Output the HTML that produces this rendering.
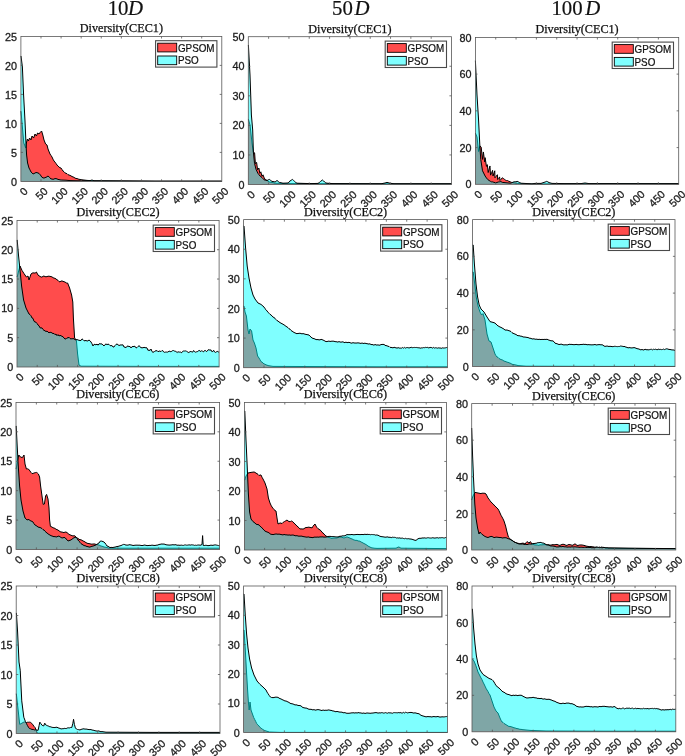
<!DOCTYPE html>
<html lang="en"><head><meta charset="utf-8"><title>Diversity curves of GPSOM and PSO</title>
<style>
html,body{margin:0;padding:0;background:#fff;}
body{width:685px;height:756px;overflow:hidden;}
svg{display:block;}
text{white-space:pre;}
.k{font-family:"Liberation Sans",sans-serif;font-size:10.8px;fill:#1c1c1c;stroke:#1c1c1c;stroke-width:.3px}
.e{text-anchor:end}
.lg{font-family:"Liberation Sans",sans-serif;font-size:10.2px;fill:#111;stroke:#111;stroke-width:.22px}
.ti{font-family:"Liberation Serif",serif;font-size:12.2px;fill:#111;stroke:#111;stroke-width:.25px;text-anchor:middle}
.hd{font-family:"Liberation Serif",serif;font-size:20.8px;fill:#111;stroke:#111;stroke-width:.2px}
.it{font-style:italic}
</style></head><body>
<svg width="685" height="756" viewBox="0 0 685 756">
<rect width="685" height="756" fill="#fff"/>
<text class="hd" x="107.7" y="15.2">10</text>
<text class="hd it" x="127.9" y="15.2">D</text>
<text class="hd" x="332" y="15.2">50</text>
<text class="hd it" x="354.6" y="15.2">D</text>
<text class="hd" x="551.4" y="15.2">100</text>
<text class="hd it" x="585.2" y="15.2">D</text>
<g><path d="M20.9 181.4L20.9 111.2L21 111.2L23.8 143L25.8 148L26.4 143L27.4 139L28.4 141L29.6 138L31 140L32 136L33.6 138L35 134L36.4 136L37.6 133L39 134L40 132.6L41.6 131L42.8 135L44 140L45.6 144L47 145L48 149L50 154L51 155.45L52 157L53 159.2L54 161L55 162.11L56 163.5L57 165L58 166.08L59 167L60 167.77L61 168L62 169.55L63 171L64 171.74L65 172.89L66 173.4L67 173.66L68 174.68L69 175L70 175.41L71 175.85L72 176.6L73 176.84L74 177.42L75 178L76 178.52L77 178.48L78 179L79 179.25L80 179.48L81 179.52L82 179.8L87 180.4L94 180.8L155 181.2L221.8 181.2L221.8 181.4Z" fill="#ff0000" fill-opacity="0.7" stroke="none"/><path d="M20.9 111.2L21 111.2L23.8 143L25.8 148L26.4 143L27.4 139L28.4 141L29.6 138L31 140L32 136L33.6 138L35 134L36.4 136L37.6 133L39 134L40 132.6L41.6 131L42.8 135L44 140L45.6 144L47 145L48 149L50 154L51 155.45L52 157L53 159.2L54 161L55 162.11L56 163.5L57 165L58 166.08L59 167L60 167.77L61 168L62 169.55L63 171L64 171.74L65 172.89L66 173.4L67 173.66L68 174.68L69 175L70 175.41L71 175.85L72 176.6L73 176.84L74 177.42L75 178L76 178.52L77 178.48L78 179L79 179.25L80 179.48L81 179.52L82 179.8L87 180.4L94 180.8L155 181.2L221.8 181.2" fill="none" stroke="#000" stroke-width="1" stroke-linejoin="round" stroke-opacity="1"/>
<path d="M20.9 181.4L20.9 56L21 56L22.4 67L23.6 95L25 121L26 144L26.6 155L27.6 163L29 168L30 169.89L31 172L32 172.79L33 174L34 173.59L35 173L36 172.54L37 172.6L38 173.02L39 173.4L40.4 175L42 177.4L43 177.72L44 178.2L45 177.53L46 177.4L47 176.7L48 176L49.6 177.4L51 179L52 178.92L53 179.4L54 178.96L55 178.6L56 178.61L57 178.89L58 179.4L61 180L66 180.2L70 180.6L78 180.8L90 180.6L92 180L94 180.8L155 181.2L221.8 181.2L221.8 181.4Z" fill="#00ffff" fill-opacity="0.5" stroke="none"/><path d="M20.9 56L21 56L22.4 67L23.6 95L25 121L26 144L26.6 155L27.6 163L29 168L30 169.89L31 172L32 172.79L33 174L34 173.59L35 173L36 172.54L37 172.6L38 173.02L39 173.4L40.4 175L42 177.4L43 177.72L44 178.2L45 177.53L46 177.4L47 176.7L48 176L49.6 177.4L51 179L52 178.92L53 179.4L54 178.96L55 178.6L56 178.61L57 178.89L58 179.4L61 180L66 180.2L70 180.6L78 180.8L90 180.6L92 180L94 180.8L155 181.2L221.8 181.2" fill="none" stroke="#000" stroke-width="1" stroke-linejoin="round" stroke-opacity="1"/>
<rect x="20.9" y="36.4" width="200.9" height="145" fill="none" stroke="#585858" stroke-width="0.8"/>
<path d="M40.99 181.4v-2.1 M40.99 36.4v2.1M61.08 181.4v-2.1 M61.08 36.4v2.1M81.17 181.4v-2.1 M81.17 36.4v2.1M101.26 181.4v-2.1 M101.26 36.4v2.1M121.35 181.4v-2.1 M121.35 36.4v2.1M141.44 181.4v-2.1 M141.44 36.4v2.1M161.53 181.4v-2.1 M161.53 36.4v2.1M181.62 181.4v-2.1 M181.62 36.4v2.1M201.71 181.4v-2.1 M201.71 36.4v2.1M20.9 152.4h2.1 M221.8 152.4h-2.1M20.9 123.4h2.1 M221.8 123.4h-2.1M20.9 94.4h2.1 M221.8 94.4h-2.1M20.9 65.4h2.1 M221.8 65.4h-2.1" stroke="#585858" stroke-width="0.8" fill="none"/>
<text class="k e" x="17.1" y="185.5">0</text>
<text class="k e" x="17.1" y="156.5">5</text>
<text class="k e" x="17.1" y="127.5">10</text>
<text class="k e" x="17.1" y="98.5">15</text>
<text class="k e" x="17.1" y="69.5">20</text>
<text class="k e" x="17.1" y="40.5">25</text>
<text class="k e" transform="translate(28.4 192.1) rotate(-45)">0</text>
<text class="k e" transform="translate(48.49 192.1) rotate(-45)">50</text>
<text class="k e" transform="translate(68.58 192.1) rotate(-45)">100</text>
<text class="k e" transform="translate(88.67 192.1) rotate(-45)">150</text>
<text class="k e" transform="translate(108.76 192.1) rotate(-45)">200</text>
<text class="k e" transform="translate(128.85 192.1) rotate(-45)">250</text>
<text class="k e" transform="translate(148.94 192.1) rotate(-45)">300</text>
<text class="k e" transform="translate(169.03 192.1) rotate(-45)">350</text>
<text class="k e" transform="translate(189.12 192.1) rotate(-45)">400</text>
<text class="k e" transform="translate(209.21 192.1) rotate(-45)">450</text>
<text class="k e" transform="translate(229.3 192.1) rotate(-45)">500</text>
<text class="ti" x="121.35" y="32.4">Diversity(CEC1)</text>
<rect x="155.6" y="40.7" width="61.3" height="26.4" fill="#fff" stroke="#4a4a4a" stroke-width="1.1"/>
<rect x="157.7" y="43.2" width="19" height="8.7" fill="#ff0000" fill-opacity="0.7" stroke="#000" stroke-width="0.9"/>
<rect x="157.7" y="56" width="19" height="8.7" fill="#00ffff" fill-opacity="0.5" stroke="#000" stroke-width="0.9"/>
<text class="lg" textLength="36.7" lengthAdjust="spacingAndGlyphs" x="177.9" y="51.6">GPSOM</text>
<text class="lg" textLength="20.8" lengthAdjust="spacingAndGlyphs" x="177.9" y="64.4">PSO</text></g>
<g><path d="M248.3 184.5L248.3 119.2L248.4 119.2L250 125L252 143L253.3 152.5L254.6 152.8L255.4 163.8L256.6 162.4L257.6 169.8L258.9 168L259.8 173.3L260.8 171.8L262 176.3L263 174.8L264.6 179L265.8 179.57L267 180.6L268 181.08L269 181.82L270 182.2L271 182.19L272 182.59L273 182.52L274 183.1L275 183.2L285 183.6L382 183.8L451.5 183.8L451.5 184.5Z" fill="#ff0000" fill-opacity="0.7" stroke="none"/><path d="M248.3 119.2L248.4 119.2L250 125L252 143L253.3 152.5L254.6 152.8L255.4 163.8L256.6 162.4L257.6 169.8L258.9 168L259.8 173.3L260.8 171.8L262 176.3L263 174.8L264.6 179L265.8 179.57L267 180.6L268 181.08L269 181.82L270 182.2L271 182.19L272 182.59L273 182.52L274 183.1L275 183.2L285 183.6L382 183.8L451.5 183.8" fill="none" stroke="#000" stroke-width="1" stroke-linejoin="round" stroke-opacity="1"/>
<path d="M248.3 184.5L248.3 45L248.4 45L250 75L251.4 115L252.7 130L253.4 152.2L254.5 163.3L256 169.3L257.9 173.3L258.95 174.68L260 176L260.95 176.64L261.9 177.54L262.85 178.52L263.8 179.6L264.87 180.04L265.93 180.22L267 180.6L268.2 179.89L269.4 179.4L270.7 180.45L272 181.4L273 181.57L274 181.68L275 182L276 181.38L277 180.4L278.2 181.52L279.4 182.4L283 183.2L288 183L289 181.85L290 181L291.2 180.24L292.4 179.4L293.5 180.42L294.6 181.4L295.8 182.53L297 183.2L303 183.4L311 183.6L318 183.4L319.3 182.54L320.6 181.4L322.4 180L323.5 180.87L324.6 182L325.8 182.89L327 183.2L333 183.6L382 183.8L382 183.6L385 183L387 182.4L390 183.2L394 183.8L451.5 183.8L451.5 184.5Z" fill="#00ffff" fill-opacity="0.5" stroke="none"/><path d="M248.3 45L248.4 45L250 75L251.4 115L252.7 130L253.4 152.2L254.5 163.3L256 169.3L257.9 173.3L258.95 174.68L260 176L260.95 176.64L261.9 177.54L262.85 178.52L263.8 179.6L264.87 180.04L265.93 180.22L267 180.6L268.2 179.89L269.4 179.4L270.7 180.45L272 181.4L273 181.57L274 181.68L275 182L276 181.38L277 180.4L278.2 181.52L279.4 182.4L283 183.2L288 183L289 181.85L290 181L291.2 180.24L292.4 179.4L293.5 180.42L294.6 181.4L295.8 182.53L297 183.2L303 183.4L311 183.6L318 183.4L319.3 182.54L320.6 181.4L322.4 180L323.5 180.87L324.6 182L325.8 182.89L327 183.2L333 183.6L382 183.8L382 183.6L385 183L387 182.4L390 183.2L394 183.8L451.5 183.8" fill="none" stroke="#000" stroke-width="1" stroke-linejoin="round" stroke-opacity="1"/>
<rect x="248.3" y="36.7" width="203.2" height="147.8" fill="none" stroke="#585858" stroke-width="0.8"/>
<path d="M268.62 184.5v-2.1 M268.62 36.7v2.1M288.94 184.5v-2.1 M288.94 36.7v2.1M309.26 184.5v-2.1 M309.26 36.7v2.1M329.58 184.5v-2.1 M329.58 36.7v2.1M349.9 184.5v-2.1 M349.9 36.7v2.1M370.22 184.5v-2.1 M370.22 36.7v2.1M390.54 184.5v-2.1 M390.54 36.7v2.1M410.86 184.5v-2.1 M410.86 36.7v2.1M431.18 184.5v-2.1 M431.18 36.7v2.1M248.3 154.94h2.1 M451.5 154.94h-2.1M248.3 125.38h2.1 M451.5 125.38h-2.1M248.3 95.82h2.1 M451.5 95.82h-2.1M248.3 66.26h2.1 M451.5 66.26h-2.1" stroke="#585858" stroke-width="0.8" fill="none"/>
<text class="k e" x="244.5" y="188.6">0</text>
<text class="k e" x="244.5" y="159.04">10</text>
<text class="k e" x="244.5" y="129.48">20</text>
<text class="k e" x="244.5" y="99.92">30</text>
<text class="k e" x="244.5" y="70.36">40</text>
<text class="k e" x="244.5" y="40.8">50</text>
<text class="k e" transform="translate(255.8 195.2) rotate(-45)">0</text>
<text class="k e" transform="translate(276.12 195.2) rotate(-45)">50</text>
<text class="k e" transform="translate(296.44 195.2) rotate(-45)">100</text>
<text class="k e" transform="translate(316.76 195.2) rotate(-45)">150</text>
<text class="k e" transform="translate(337.08 195.2) rotate(-45)">200</text>
<text class="k e" transform="translate(357.4 195.2) rotate(-45)">250</text>
<text class="k e" transform="translate(377.72 195.2) rotate(-45)">300</text>
<text class="k e" transform="translate(398.04 195.2) rotate(-45)">350</text>
<text class="k e" transform="translate(418.36 195.2) rotate(-45)">400</text>
<text class="k e" transform="translate(438.68 195.2) rotate(-45)">450</text>
<text class="k e" transform="translate(459 195.2) rotate(-45)">500</text>
<text class="ti" x="349.9" y="32.7">Diversity(CEC1)</text>
<rect x="385.2" y="41.1" width="61.3" height="26.4" fill="#fff" stroke="#4a4a4a" stroke-width="1.1"/>
<rect x="387.3" y="43.6" width="19" height="8.7" fill="#ff0000" fill-opacity="0.7" stroke="#000" stroke-width="0.9"/>
<rect x="387.3" y="56.4" width="19" height="8.7" fill="#00ffff" fill-opacity="0.5" stroke="#000" stroke-width="0.9"/>
<text class="lg" textLength="36.7" lengthAdjust="spacingAndGlyphs" x="407.5" y="52">GPSOM</text>
<text class="lg" textLength="20.8" lengthAdjust="spacingAndGlyphs" x="407.5" y="64.8">PSO</text></g>
<g><path d="M475.4 184.3L475.4 133L477 137L478.57 151.52L479.88 145.83L481.19 147.15L482.51 159.4L483.38 151.96L484.7 162.03L485.13 157.65L486.45 166.41L487.32 164.66L488.2 172.54L489.95 165.97L490.56 175.17L491.57 172.88L492.58 170.35L493.02 176.04L494.77 170.79L494.94 177.79L496.17 176.35L497.39 174.73L497.66 179.54L498.62 178.53L499.58 176.92L500.02 180.42L501.12 179.3L502.21 177.79L503.23 178.39L504.25 179.18L505.27 179.98L506.44 180.52L507.61 180.57L508.78 181.3L510.09 181.8L511.4 182.35L515.78 183.22L521.04 183.66L531.98 184.01L608 183.6L678.7 183.6L678.7 184.3Z" fill="#ff0000" fill-opacity="0.7" stroke="none"/><path d="M475.4 133L477 137L478.57 151.52L479.88 145.83L481.19 147.15L482.51 159.4L483.38 151.96L484.7 162.03L485.13 157.65L486.45 166.41L487.32 164.66L488.2 172.54L489.95 165.97L490.56 175.17L491.57 172.88L492.58 170.35L493.02 176.04L494.77 170.79L494.94 177.79L496.17 176.35L497.39 174.73L497.66 179.54L498.62 178.53L499.58 176.92L500.02 180.42L501.12 179.3L502.21 177.79L503.23 178.39L504.25 179.18L505.27 179.98L506.44 180.52L507.61 180.57L508.78 181.3L510.09 181.8L511.4 182.35L515.78 183.22L521.04 183.66L531.98 184.01L608 183.6L678.7 183.6" fill="none" stroke="#000" stroke-width="1" stroke-linejoin="round" stroke-opacity="1"/>
<path d="M475.4 184.3L475.4 60.6L477 95L478.57 120L479.88 146.27L480.76 159.4L482.51 170.79L485.13 176.04L486.45 177.95L487.76 179.54L489.08 180.46L490.39 181.3L491.56 181.87L492.72 181.88L493.89 182.35L495.64 182.7L496.96 182.46L498.27 182L499.58 181.83L500.9 181.56L502.21 182.35L507.03 182.87L510.53 183.22L511.7 182.8L512.86 182.26L514.03 181.82L515.05 181.85L516.07 181.74L517.1 181.3L518.19 181.81L519.29 182.35L521.04 183.22L531.98 183.84L535 183.4L541 183.4L544 182.4L545.2 182L546.4 181.4L547.7 181.74L549 182.6L552 183.4L565 183.6L581 183.6L585 183L589 183.6L608 183.6L678.7 183.8L678.7 184.3Z" fill="#00ffff" fill-opacity="0.5" stroke="none"/><path d="M475.4 60.6L477 95L478.57 120L479.88 146.27L480.76 159.4L482.51 170.79L485.13 176.04L486.45 177.95L487.76 179.54L489.08 180.46L490.39 181.3L491.56 181.87L492.72 181.88L493.89 182.35L495.64 182.7L496.96 182.46L498.27 182L499.58 181.83L500.9 181.56L502.21 182.35L507.03 182.87L510.53 183.22L511.7 182.8L512.86 182.26L514.03 181.82L515.05 181.85L516.07 181.74L517.1 181.3L518.19 181.81L519.29 182.35L521.04 183.22L531.98 183.84L535 183.4L541 183.4L544 182.4L545.2 182L546.4 181.4L547.7 181.74L549 182.6L552 183.4L565 183.6L581 183.6L585 183L589 183.6L608 183.6L678.7 183.8" fill="none" stroke="#000" stroke-width="1" stroke-linejoin="round" stroke-opacity="1"/>
<rect x="475.4" y="37.4" width="203.3" height="146.9" fill="none" stroke="#585858" stroke-width="0.8"/>
<path d="M495.73 184.3v-2.1 M495.73 37.4v2.1M516.06 184.3v-2.1 M516.06 37.4v2.1M536.39 184.3v-2.1 M536.39 37.4v2.1M556.72 184.3v-2.1 M556.72 37.4v2.1M577.05 184.3v-2.1 M577.05 37.4v2.1M597.38 184.3v-2.1 M597.38 37.4v2.1M617.71 184.3v-2.1 M617.71 37.4v2.1M638.04 184.3v-2.1 M638.04 37.4v2.1M658.37 184.3v-2.1 M658.37 37.4v2.1M475.4 147.58h2.1 M678.7 147.58h-2.1M475.4 110.85h2.1 M678.7 110.85h-2.1M475.4 74.12h2.1 M678.7 74.12h-2.1" stroke="#585858" stroke-width="0.8" fill="none"/>
<text class="k e" x="471.6" y="188.4">0</text>
<text class="k e" x="471.6" y="151.68">20</text>
<text class="k e" x="471.6" y="114.95">40</text>
<text class="k e" x="471.6" y="78.22">60</text>
<text class="k e" x="471.6" y="41.5">80</text>
<text class="k e" transform="translate(482.9 195) rotate(-45)">0</text>
<text class="k e" transform="translate(503.23 195) rotate(-45)">50</text>
<text class="k e" transform="translate(523.56 195) rotate(-45)">100</text>
<text class="k e" transform="translate(543.89 195) rotate(-45)">150</text>
<text class="k e" transform="translate(564.22 195) rotate(-45)">200</text>
<text class="k e" transform="translate(584.55 195) rotate(-45)">250</text>
<text class="k e" transform="translate(604.88 195) rotate(-45)">300</text>
<text class="k e" transform="translate(625.21 195) rotate(-45)">350</text>
<text class="k e" transform="translate(645.54 195) rotate(-45)">400</text>
<text class="k e" transform="translate(665.87 195) rotate(-45)">450</text>
<text class="k e" transform="translate(686.2 195) rotate(-45)">500</text>
<text class="ti" x="577.05" y="33.4">Diversity(CEC1)</text>
<rect x="612.2" y="42.1" width="61.3" height="26.4" fill="#fff" stroke="#4a4a4a" stroke-width="1.1"/>
<rect x="614.3" y="44.6" width="19" height="8.7" fill="#ff0000" fill-opacity="0.7" stroke="#000" stroke-width="0.9"/>
<rect x="614.3" y="57.4" width="19" height="8.7" fill="#00ffff" fill-opacity="0.5" stroke="#000" stroke-width="0.9"/>
<text class="lg" textLength="36.7" lengthAdjust="spacingAndGlyphs" x="634.5" y="53">GPSOM</text>
<text class="lg" textLength="20.8" lengthAdjust="spacingAndGlyphs" x="634.5" y="65.8">PSO</text></g>
<g><path d="M17 367L17 277L17.2 277L18.4 272L20 266L22 270.4L24 273.6L26.4 277L28 276L29 280L31 274L32 273.26L33 272.8L34 273L35.2 273.02L36.4 272L38 275L39 275.83L40 276.36L41 277L42 277.14L43 276.26L44 276L45 276.61L46 276.76L47 276.6L48 276.22L49 276.19L50 276.4L51 276.57L52 276.91L53 277.6L54 278.16L55 278.27L56 279L57 279.78L58 280.33L59 281.6L60 281.85L61 281.04L62 281L63 281.29L64 281.76L65 282L66.3 282.94L67.6 283L69.6 288L71.6 295L72.8 302L73.4 318L74.6 338L75.5 339.11L76.4 340.4L77.6 354L79 365L81 366.2L151 366.4L219.1 366.4L219.1 367Z" fill="#ff0000" fill-opacity="0.7" stroke="none"/><path d="M17 277L17.2 277L18.4 272L20 266L22 270.4L24 273.6L26.4 277L28 276L29 280L31 274L32 273.26L33 272.8L34 273L35.2 273.02L36.4 272L38 275L39 275.83L40 276.36L41 277L42 277.14L43 276.26L44 276L45 276.61L46 276.76L47 276.6L48 276.22L49 276.19L50 276.4L51 276.57L52 276.91L53 277.6L54 278.16L55 278.27L56 279L57 279.78L58 280.33L59 281.6L60 281.85L61 281.04L62 281L63 281.29L64 281.76L65 282L66.3 282.94L67.6 283L69.6 288L71.6 295L72.8 302L73.4 318L74.6 338L75.5 339.11L76.4 340.4L77.6 354L79 365L81 366.2L151 366.4L219.1 366.4" fill="none" stroke="#000" stroke-width="1" stroke-linejoin="round" stroke-opacity="1"/>
<path d="M17 367L17 240L17.2 240L18.4 254L20 270L21.6 286L23.6 300L26 308L29 314L30 314.6L31 315.82L32 318L33 318.36L34 321.26L35 322L36 322.18L37 323.44L38 325L39 325.76L40 327.82L41 328L42 327.88L43 329.49L44 330.4L45 330.71L46 331.64L47 331L48 332.17L49 332.73L50 332.4L51 332.31L52 333.01L53 333.6L54 333.42L55 334.71L56 334L57 335.67L58 334.57L59 336L60 335.42L61 335.68L62 336.4L63 336.68L64 338.1L65 339L66 338.86L67 337.81L68 338L69 337.24L70 338.49L71 339L72 338.58L73 338.88L74 338.6L75 339.93L76 339.69L77 339.6L78 339.9L79 340.39L80 340.4L81 340.52L82 338.89L83 339.6L84 340.75L85 340.75L86 340.4L87 341.09L88 340.79L89 340L90 340.76L91 342L92 343.78L93 346L94 344.33L95 344.4L96 344.96L97 343.97L98 345.2L99 343.85L100 343.76L101 344L102 343.92L103 344.98L104 346L105 344.55L106 343.97L107 344.6L108 344.17L109 344.39L110 345.6L111 345.77L112 345.49L113 347L114 346.96L115 345.52L116 344.4L117 344.03L118 344.65L119 345.6L120 345.06L121 344.9L122 345L123 344.84L124 347.1L125 347L126 347.75L127 346.26L128 346L129 346.63L130 346.42L131 348L132 346.59L133 346.59L134 346.4L135 346.28L136 347.92L137 347.6L138 346.46L139 345.75L140 346.4L141 347.93L142 347.53L143 348L144 347.09L145 347.83L146 347.6L147 347.96L148 350.4L149 350L150 350.52L151 349L152 351.6L153 352.32L154 351.88L155 350.85L156 351.01L157 350.49L158 351.75L159 351.15L160 351L160.91 351.67L161.82 350.73L162.73 350.55L163.64 351.9L164.55 352.34L165.45 352.1L166.36 352.06L167.27 352.14L168.18 352.02L169.09 350.94L170 351.6L170.91 351.64L171.82 351.28L172.73 350.56L173.64 350.56L174.55 351.11L175.45 351.07L176.36 352.02L177.27 352.6L178.18 351.48L179.09 352.56L180 351.6L180.91 352.67L181.82 352.6L182.73 351.3L183.64 350.99L184.55 351L185.45 350.93L186.36 350.95L187.27 351.87L188.18 352.48L189.09 352.35L190 351.6L190.91 351.5L191.82 351.83L192.73 352.1L193.64 350.47L194.55 351.68L195.45 352.17L196.36 351.84L197.27 351.71L198.18 351.06L199.09 350.35L200 351L200.91 351.58L201.82 350.52L202.73 351.5L203.64 351.82L204.55 350.5L205.45 350.46L206.36 351.6L207.27 351.06L208.18 349.78L209.09 349.63L210 350.4L210.91 349.79L211.82 351.61L212.73 351.55L213.64 350.26L214.55 351.92L215.46 352.42L216.37 351.87L217.28 351.35L218.19 351.95L219.1 352L219.1 367Z" fill="#00ffff" fill-opacity="0.5" stroke="none"/><path d="M17 240L17.2 240L18.4 254L20 270L21.6 286L23.6 300L26 308L29 314L30 314.6L31 315.82L32 318L33 318.36L34 321.26L35 322L36 322.18L37 323.44L38 325L39 325.76L40 327.82L41 328L42 327.88L43 329.49L44 330.4L45 330.71L46 331.64L47 331L48 332.17L49 332.73L50 332.4L51 332.31L52 333.01L53 333.6L54 333.42L55 334.71L56 334L57 335.67L58 334.57L59 336L60 335.42L61 335.68L62 336.4L63 336.68L64 338.1L65 339L66 338.86L67 337.81L68 338L69 337.24L70 338.49L71 339L72 338.58L73 338.88L74 338.6L75 339.93L76 339.69L77 339.6L78 339.9L79 340.39L80 340.4L81 340.52L82 338.89L83 339.6L84 340.75L85 340.75L86 340.4L87 341.09L88 340.79L89 340L90 340.76L91 342L92 343.78L93 346L94 344.33L95 344.4L96 344.96L97 343.97L98 345.2L99 343.85L100 343.76L101 344L102 343.92L103 344.98L104 346L105 344.55L106 343.97L107 344.6L108 344.17L109 344.39L110 345.6L111 345.77L112 345.49L113 347L114 346.96L115 345.52L116 344.4L117 344.03L118 344.65L119 345.6L120 345.06L121 344.9L122 345L123 344.84L124 347.1L125 347L126 347.75L127 346.26L128 346L129 346.63L130 346.42L131 348L132 346.59L133 346.59L134 346.4L135 346.28L136 347.92L137 347.6L138 346.46L139 345.75L140 346.4L141 347.93L142 347.53L143 348L144 347.09L145 347.83L146 347.6L147 347.96L148 350.4L149 350L150 350.52L151 349L152 351.6L153 352.32L154 351.88L155 350.85L156 351.01L157 350.49L158 351.75L159 351.15L160 351L160.91 351.67L161.82 350.73L162.73 350.55L163.64 351.9L164.55 352.34L165.45 352.1L166.36 352.06L167.27 352.14L168.18 352.02L169.09 350.94L170 351.6L170.91 351.64L171.82 351.28L172.73 350.56L173.64 350.56L174.55 351.11L175.45 351.07L176.36 352.02L177.27 352.6L178.18 351.48L179.09 352.56L180 351.6L180.91 352.67L181.82 352.6L182.73 351.3L183.64 350.99L184.55 351L185.45 350.93L186.36 350.95L187.27 351.87L188.18 352.48L189.09 352.35L190 351.6L190.91 351.5L191.82 351.83L192.73 352.1L193.64 350.47L194.55 351.68L195.45 352.17L196.36 351.84L197.27 351.71L198.18 351.06L199.09 350.35L200 351L200.91 351.58L201.82 350.52L202.73 351.5L203.64 351.82L204.55 350.5L205.45 350.46L206.36 351.6L207.27 351.06L208.18 349.78L209.09 349.63L210 350.4L210.91 349.79L211.82 351.61L212.73 351.55L213.64 350.26L214.55 351.92L215.46 352.42L216.37 351.87L217.28 351.35L218.19 351.95L219.1 352" fill="none" stroke="#000" stroke-width="1" stroke-linejoin="round" stroke-opacity="1"/>
<rect x="17" y="220.4" width="202.1" height="146.6" fill="none" stroke="#585858" stroke-width="0.8"/>
<path d="M37.21 367v-2.1 M37.21 220.4v2.1M57.42 367v-2.1 M57.42 220.4v2.1M77.63 367v-2.1 M77.63 220.4v2.1M97.84 367v-2.1 M97.84 220.4v2.1M118.05 367v-2.1 M118.05 220.4v2.1M138.26 367v-2.1 M138.26 220.4v2.1M158.47 367v-2.1 M158.47 220.4v2.1M178.68 367v-2.1 M178.68 220.4v2.1M198.89 367v-2.1 M198.89 220.4v2.1M17 337.68h2.1 M219.1 337.68h-2.1M17 308.36h2.1 M219.1 308.36h-2.1M17 279.04h2.1 M219.1 279.04h-2.1M17 249.72h2.1 M219.1 249.72h-2.1" stroke="#585858" stroke-width="0.8" fill="none"/>
<text class="k e" x="13.2" y="371.1">0</text>
<text class="k e" x="13.2" y="341.78">5</text>
<text class="k e" x="13.2" y="312.46">10</text>
<text class="k e" x="13.2" y="283.14">15</text>
<text class="k e" x="13.2" y="253.82">20</text>
<text class="k e" x="13.2" y="224.5">25</text>
<text class="k e" transform="translate(24.5 377.7) rotate(-45)">0</text>
<text class="k e" transform="translate(44.71 377.7) rotate(-45)">50</text>
<text class="k e" transform="translate(64.92 377.7) rotate(-45)">100</text>
<text class="k e" transform="translate(85.13 377.7) rotate(-45)">150</text>
<text class="k e" transform="translate(105.34 377.7) rotate(-45)">200</text>
<text class="k e" transform="translate(125.55 377.7) rotate(-45)">250</text>
<text class="k e" transform="translate(145.76 377.7) rotate(-45)">300</text>
<text class="k e" transform="translate(165.97 377.7) rotate(-45)">350</text>
<text class="k e" transform="translate(186.18 377.7) rotate(-45)">400</text>
<text class="k e" transform="translate(206.39 377.7) rotate(-45)">450</text>
<text class="k e" transform="translate(226.6 377.7) rotate(-45)">500</text>
<text class="ti" x="118.05" y="216.4">Diversity(CEC2)</text>
<rect x="153.2" y="225.1" width="61.3" height="26.4" fill="#fff" stroke="#4a4a4a" stroke-width="1.1"/>
<rect x="155.3" y="227.6" width="19" height="8.7" fill="#ff0000" fill-opacity="0.7" stroke="#000" stroke-width="0.9"/>
<rect x="155.3" y="240.4" width="19" height="8.7" fill="#00ffff" fill-opacity="0.5" stroke="#000" stroke-width="0.9"/>
<text class="lg" textLength="36.7" lengthAdjust="spacingAndGlyphs" x="175.5" y="236">GPSOM</text>
<text class="lg" textLength="20.8" lengthAdjust="spacingAndGlyphs" x="175.5" y="248.8">PSO</text></g>
<g><path d="M243.6 367.7L243.6 306L244 306L245 312L246.4 316L248 330L249 334L250 329L251.6 331L253 340L254.4 343L256 348L257.6 356L259 358L260 359.71L261 361.6L262 362.13L263 362.98L264 364L265 364.14L266 364.94L267 365.05L268 365.6L273 366.4L377 366.8L447.5 366.8L447.5 367.7Z" fill="#ff0000" fill-opacity="0.7" stroke="none"/><path d="M243.6 306L244 306L245 312L246.4 316L248 330L249 334L250 329L251.6 331L253 340L254.4 343L256 348L257.6 356L259 358L260 359.71L261 361.6L262 362.13L263 362.98L264 364L265 364.14L266 364.94L267 365.05L268 365.6L273 366.4L377 366.8L447.5 366.8" fill="none" stroke="#000" stroke-width="1" stroke-linejoin="round" stroke-opacity="1"/>
<path d="M243.6 367.7L243.6 226L244 226L245.6 248L247.2 266L249 278L251 288L253 295L255 299L258 303L261 304.4L264 307L265 308.71L266 309.67L267 311L268 312.16L269 313.29L270 314.4L271 314.83L272 316.08L273 317L274 317.58L275 318.29L276 319.6L277 320.67L278 320.91L279 322L280 322.51L281 323.27L282 323.6L283 324.32L284 324.78L285 325.6L286 326.28L287 326.98L288 327.6L289 328.79L290 329.11L291 330.4L292 331.19L293 331.64L294 332.6L295 332.73L296 333.51L297 333.6L298 333.47L299 333.39L300 333.2L301 333.57L302 333.84L303 333.6L304 333.82L305 334.23L306 334.4L307 334.6L308 334.81L309 335L310 336.17L311 336.96L312 338L313 338.36L314 338.65L315 339L316 339.6L317 339.58L318 339.6L319 339.87L320 339.86L321 339.4L322 339.52L323 340.12L324 340.4L325 341.2L326 341.51L327 341.6L328 341.21L329 341.13L330 341.4L331 341.38L332 341.08L333 341.27L334 341.15L335 341.72L336 341.6L337 341.92L338 342.09L339 341.49L340 342.06L341 342.08L342 342L343 341.75L344 342.48L345 342.62L346 342.01L347 342.74L348 342.4L349 342.41L350 342.59L351 343.14L352 343.1L353 342.6L354 343L355 342.97L356 343.08L357 342.96L358 342.86L359 343L360 343.2L361 343.47L362 342.9L363 343.45L364 343.41L365 343.1L366 343.6L367 343.58L368 343.98L369 344.01L370 343.74L371 344.7L372 344.4L373 344.82L374 345.14L375 344.52L376 344.83L377 345.2L378 344.72L379 345.32L380 345L381 344.64L382 344.37L383 344.48L384 344.4L385 345.27L386 345.69L387 345.68L388 346.4L389 346.38L390 347.38L391 347.36L392 347.6L393 347.85L394 347.36L395 347.4L396 348.04L397 347.87L398 348L398.92 347.58L399.85 348.33L400.77 348.03L401.69 348.15L402.62 347.47L403.54 348.14L404.46 347.39L405.38 348.08L406.31 347.68L407.23 347.55L408.15 347.71L409.08 348.01L410 347.6L410.91 347.43L411.82 347.34L412.73 347.73L413.64 347.51L414.55 347.43L415.45 347.51L416.36 347.45L417.27 347.62L418.18 347.76L419.09 347.79L420 348L420.91 348.2L421.82 347.74L422.73 347.89L423.64 347.56L424.55 347.68L425.45 347.35L426.36 347.52L427.27 347.27L428.18 347.88L429.09 347.68L430 347.6L430.91 347.36L431.82 347.65L432.73 348.1L433.64 347.39L434.55 348.07L435.45 347.76L436.36 347.85L437.27 348.19L438.18 347.83L439.09 347.97L440 348L440.94 348.12L441.88 348.33L442.81 347.71L443.75 348.1L444.69 347.94L445.62 347.82L446.56 347.56L447.5 347.6L447.5 367.7Z" fill="#00ffff" fill-opacity="0.5" stroke="none"/><path d="M243.6 226L244 226L245.6 248L247.2 266L249 278L251 288L253 295L255 299L258 303L261 304.4L264 307L265 308.71L266 309.67L267 311L268 312.16L269 313.29L270 314.4L271 314.83L272 316.08L273 317L274 317.58L275 318.29L276 319.6L277 320.67L278 320.91L279 322L280 322.51L281 323.27L282 323.6L283 324.32L284 324.78L285 325.6L286 326.28L287 326.98L288 327.6L289 328.79L290 329.11L291 330.4L292 331.19L293 331.64L294 332.6L295 332.73L296 333.51L297 333.6L298 333.47L299 333.39L300 333.2L301 333.57L302 333.84L303 333.6L304 333.82L305 334.23L306 334.4L307 334.6L308 334.81L309 335L310 336.17L311 336.96L312 338L313 338.36L314 338.65L315 339L316 339.6L317 339.58L318 339.6L319 339.87L320 339.86L321 339.4L322 339.52L323 340.12L324 340.4L325 341.2L326 341.51L327 341.6L328 341.21L329 341.13L330 341.4L331 341.38L332 341.08L333 341.27L334 341.15L335 341.72L336 341.6L337 341.92L338 342.09L339 341.49L340 342.06L341 342.08L342 342L343 341.75L344 342.48L345 342.62L346 342.01L347 342.74L348 342.4L349 342.41L350 342.59L351 343.14L352 343.1L353 342.6L354 343L355 342.97L356 343.08L357 342.96L358 342.86L359 343L360 343.2L361 343.47L362 342.9L363 343.45L364 343.41L365 343.1L366 343.6L367 343.58L368 343.98L369 344.01L370 343.74L371 344.7L372 344.4L373 344.82L374 345.14L375 344.52L376 344.83L377 345.2L378 344.72L379 345.32L380 345L381 344.64L382 344.37L383 344.48L384 344.4L385 345.27L386 345.69L387 345.68L388 346.4L389 346.38L390 347.38L391 347.36L392 347.6L393 347.85L394 347.36L395 347.4L396 348.04L397 347.87L398 348L398.92 347.58L399.85 348.33L400.77 348.03L401.69 348.15L402.62 347.47L403.54 348.14L404.46 347.39L405.38 348.08L406.31 347.68L407.23 347.55L408.15 347.71L409.08 348.01L410 347.6L410.91 347.43L411.82 347.34L412.73 347.73L413.64 347.51L414.55 347.43L415.45 347.51L416.36 347.45L417.27 347.62L418.18 347.76L419.09 347.79L420 348L420.91 348.2L421.82 347.74L422.73 347.89L423.64 347.56L424.55 347.68L425.45 347.35L426.36 347.52L427.27 347.27L428.18 347.88L429.09 347.68L430 347.6L430.91 347.36L431.82 347.65L432.73 348.1L433.64 347.39L434.55 348.07L435.45 347.76L436.36 347.85L437.27 348.19L438.18 347.83L439.09 347.97L440 348L440.94 348.12L441.88 348.33L442.81 347.71L443.75 348.1L444.69 347.94L445.62 347.82L446.56 347.56L447.5 347.6" fill="none" stroke="#000" stroke-width="1" stroke-linejoin="round" stroke-opacity="1"/>
<rect x="243.6" y="219.6" width="203.9" height="148.1" fill="none" stroke="#585858" stroke-width="0.8"/>
<path d="M263.99 367.7v-2.1 M263.99 219.6v2.1M284.38 367.7v-2.1 M284.38 219.6v2.1M304.77 367.7v-2.1 M304.77 219.6v2.1M325.16 367.7v-2.1 M325.16 219.6v2.1M345.55 367.7v-2.1 M345.55 219.6v2.1M365.94 367.7v-2.1 M365.94 219.6v2.1M386.33 367.7v-2.1 M386.33 219.6v2.1M406.72 367.7v-2.1 M406.72 219.6v2.1M427.11 367.7v-2.1 M427.11 219.6v2.1M243.6 338.08h2.1 M447.5 338.08h-2.1M243.6 308.46h2.1 M447.5 308.46h-2.1M243.6 278.84h2.1 M447.5 278.84h-2.1M243.6 249.22h2.1 M447.5 249.22h-2.1" stroke="#585858" stroke-width="0.8" fill="none"/>
<text class="k e" x="239.8" y="371.8">0</text>
<text class="k e" x="239.8" y="342.18">10</text>
<text class="k e" x="239.8" y="312.56">20</text>
<text class="k e" x="239.8" y="282.94">30</text>
<text class="k e" x="239.8" y="253.32">40</text>
<text class="k e" x="239.8" y="223.7">50</text>
<text class="k e" transform="translate(251.1 378.4) rotate(-45)">0</text>
<text class="k e" transform="translate(271.49 378.4) rotate(-45)">50</text>
<text class="k e" transform="translate(291.88 378.4) rotate(-45)">100</text>
<text class="k e" transform="translate(312.27 378.4) rotate(-45)">150</text>
<text class="k e" transform="translate(332.66 378.4) rotate(-45)">200</text>
<text class="k e" transform="translate(353.05 378.4) rotate(-45)">250</text>
<text class="k e" transform="translate(373.44 378.4) rotate(-45)">300</text>
<text class="k e" transform="translate(393.83 378.4) rotate(-45)">350</text>
<text class="k e" transform="translate(414.22 378.4) rotate(-45)">400</text>
<text class="k e" transform="translate(434.61 378.4) rotate(-45)">450</text>
<text class="k e" transform="translate(455 378.4) rotate(-45)">500</text>
<text class="ti" x="345.55" y="215.6">Diversity(CEC2)</text>
<rect x="380.6" y="224.7" width="61.3" height="26.4" fill="#fff" stroke="#4a4a4a" stroke-width="1.1"/>
<rect x="382.7" y="227.2" width="19" height="8.7" fill="#ff0000" fill-opacity="0.7" stroke="#000" stroke-width="0.9"/>
<rect x="382.7" y="240" width="19" height="8.7" fill="#00ffff" fill-opacity="0.5" stroke="#000" stroke-width="0.9"/>
<text class="lg" textLength="36.7" lengthAdjust="spacingAndGlyphs" x="402.9" y="235.6">GPSOM</text>
<text class="lg" textLength="20.8" lengthAdjust="spacingAndGlyphs" x="402.9" y="248.4">PSO</text></g>
<g><path d="M472.6 366.6L472.6 272L473.2 272L475 286L476.4 298L478 306L480 312L481.6 315L483 313.6L485 320L487 334L489 341L490 341.39L491 342L493 348L495 354L496 355.7L497 357L498 357.37L499 358.48L500 359L501 359.67L502 359.71L503 360.4L504 361.06L505 361.33L506 361.6L507 362.24L508 362.27L509 362.8L510 363.12L511 363.54L512 364.3L513 364.4L514 364.69L515 364.8L516 365.08L517 365.23L518 365.6L526 366.2L603 366.4L675 366.4L675 366.6Z" fill="#ff0000" fill-opacity="0.7" stroke="none"/><path d="M472.6 272L473.2 272L475 286L476.4 298L478 306L480 312L481.6 315L483 313.6L485 320L487 334L489 341L490 341.39L491 342L493 348L495 354L496 355.7L497 357L498 357.37L499 358.48L500 359L501 359.67L502 359.71L503 360.4L504 361.06L505 361.33L506 361.6L507 362.24L508 362.27L509 362.8L510 363.12L511 363.54L512 364.3L513 364.4L514 364.69L515 364.8L516 365.08L517 365.23L518 365.6L526 366.2L603 366.4L675 366.4" fill="none" stroke="#000" stroke-width="1" stroke-linejoin="round" stroke-opacity="1"/>
<path d="M472.6 366.6L472.6 245L473.2 245L474.4 264L476 284L477.6 297L479.2 305L481 309L484 312L487 317L490 321.6L493 322.4L494 322.66L495 323.13L496 324L497 325.07L498 325.9L499 326.4L500 327.07L501 327.29L502 328L503 328.46L504 329.17L505 330L506 330.1L507 329.99L508 330.4L509 330.76L510 331.01L511 331.6L512 332.64L513 333.31L514 333.6L515 334.17L516 334.46L517 335.2L518 335.84L519 335.58L520 336L521 336.22L522 336.27L523 337L524 336.97L525 337.11L526 337.2L527 337.47L528 337.49L529 338L530 338.34L531 338.27L532 339L533 338.88L534 338.81L535 339.2L536 339.25L537 339.1L538 339.6L539 339.22L540 339.44L541 339.6L542 339.32L543 339.54L544 339.4L545 339.36L546 339.47L547 339.2L548 339.73L549 340.17L550 340.4L551 340.9L552 340.71L553 341L554 341.73L555 343.12L556 343.6L557 343.59L558 344.31L559 344.4L560 344.51L561 344.04L562 344.4L563 344.77L564 344.91L565 344.8L566 344.8L567 344.89L568 344.85L569 344.21L570 344.4L571 344.42L572 344.4L573 344.67L574 344.64L575 344.66L576 344.4L577 344.5L578 344.78L579 344.65L580 344.69L581 344.35L582 344.6L583 344.22L584 344.31L585 344.49L586 344.28L587 344.87L588 344.6L589 344.68L590 344.77L591 344.8L592 344.88L593 344.76L594 344.8L595 344.37L596 344.97L597 344.9L598 344.67L599 344.66L600 344.6L601 344.93L602 344.65L603 345.2L604 345.99L605 346.4L606 346.2L607 346.06L608 346.21L609 346.58L610 346.16L611 346.59L612 346.4L612.92 346.78L613.85 346.4L614.77 346.31L615.69 346.38L616.62 346.55L617.54 346.61L618.46 346.49L619.38 346.51L620.31 346.06L621.23 346.12L622.15 346.2L623.08 346.59L624 346.4L625 346.64L626 347.25L627 347.21L628 348L629 347.58L630 347.68L631 347.94L632 347.89L633 347.81L634 347.6L635 347.77L636 348.28L637 348.57L638 348.91L639 348.96L640 349.6L641 349.91L642 349.36L643 349.98L644 349.95L645 349.21L646 349.57L647 349.86L648 349.6L648.91 349.96L649.82 349.52L650.73 349.36L651.64 349.3L652.55 349.87L653.45 349.26L654.36 349.54L655.27 349.17L656.18 349.46L657.09 349.78L658 349.4L658.91 349.09L659.82 349.62L660.73 349.35L661.64 349.64L662.55 349.47L663.45 349.08L664.36 349.59L665.27 349.24L666.18 348.86L667.09 348.82L668 349.2L669 349.39L670 349.56L671 349.64L672 350L673 349.85L674 350.14L675 350.4L675 366.6Z" fill="#00ffff" fill-opacity="0.5" stroke="none"/><path d="M472.6 245L473.2 245L474.4 264L476 284L477.6 297L479.2 305L481 309L484 312L487 317L490 321.6L493 322.4L494 322.66L495 323.13L496 324L497 325.07L498 325.9L499 326.4L500 327.07L501 327.29L502 328L503 328.46L504 329.17L505 330L506 330.1L507 329.99L508 330.4L509 330.76L510 331.01L511 331.6L512 332.64L513 333.31L514 333.6L515 334.17L516 334.46L517 335.2L518 335.84L519 335.58L520 336L521 336.22L522 336.27L523 337L524 336.97L525 337.11L526 337.2L527 337.47L528 337.49L529 338L530 338.34L531 338.27L532 339L533 338.88L534 338.81L535 339.2L536 339.25L537 339.1L538 339.6L539 339.22L540 339.44L541 339.6L542 339.32L543 339.54L544 339.4L545 339.36L546 339.47L547 339.2L548 339.73L549 340.17L550 340.4L551 340.9L552 340.71L553 341L554 341.73L555 343.12L556 343.6L557 343.59L558 344.31L559 344.4L560 344.51L561 344.04L562 344.4L563 344.77L564 344.91L565 344.8L566 344.8L567 344.89L568 344.85L569 344.21L570 344.4L571 344.42L572 344.4L573 344.67L574 344.64L575 344.66L576 344.4L577 344.5L578 344.78L579 344.65L580 344.69L581 344.35L582 344.6L583 344.22L584 344.31L585 344.49L586 344.28L587 344.87L588 344.6L589 344.68L590 344.77L591 344.8L592 344.88L593 344.76L594 344.8L595 344.37L596 344.97L597 344.9L598 344.67L599 344.66L600 344.6L601 344.93L602 344.65L603 345.2L604 345.99L605 346.4L606 346.2L607 346.06L608 346.21L609 346.58L610 346.16L611 346.59L612 346.4L612.92 346.78L613.85 346.4L614.77 346.31L615.69 346.38L616.62 346.55L617.54 346.61L618.46 346.49L619.38 346.51L620.31 346.06L621.23 346.12L622.15 346.2L623.08 346.59L624 346.4L625 346.64L626 347.25L627 347.21L628 348L629 347.58L630 347.68L631 347.94L632 347.89L633 347.81L634 347.6L635 347.77L636 348.28L637 348.57L638 348.91L639 348.96L640 349.6L641 349.91L642 349.36L643 349.98L644 349.95L645 349.21L646 349.57L647 349.86L648 349.6L648.91 349.96L649.82 349.52L650.73 349.36L651.64 349.3L652.55 349.87L653.45 349.26L654.36 349.54L655.27 349.17L656.18 349.46L657.09 349.78L658 349.4L658.91 349.09L659.82 349.62L660.73 349.35L661.64 349.64L662.55 349.47L663.45 349.08L664.36 349.59L665.27 349.24L666.18 348.86L667.09 348.82L668 349.2L669 349.39L670 349.56L671 349.64L672 350L673 349.85L674 350.14L675 350.4" fill="none" stroke="#000" stroke-width="1" stroke-linejoin="round" stroke-opacity="1"/>
<rect x="472.6" y="219.6" width="202.4" height="147" fill="none" stroke="#585858" stroke-width="0.8"/>
<path d="M492.84 366.6v-2.1 M492.84 219.6v2.1M513.08 366.6v-2.1 M513.08 219.6v2.1M533.32 366.6v-2.1 M533.32 219.6v2.1M553.56 366.6v-2.1 M553.56 219.6v2.1M573.8 366.6v-2.1 M573.8 219.6v2.1M594.04 366.6v-2.1 M594.04 219.6v2.1M614.28 366.6v-2.1 M614.28 219.6v2.1M634.52 366.6v-2.1 M634.52 219.6v2.1M654.76 366.6v-2.1 M654.76 219.6v2.1M472.6 329.85h2.1 M675 329.85h-2.1M472.6 293.1h2.1 M675 293.1h-2.1M472.6 256.35h2.1 M675 256.35h-2.1" stroke="#585858" stroke-width="0.8" fill="none"/>
<text class="k e" x="468.8" y="370.7">0</text>
<text class="k e" x="468.8" y="333.95">20</text>
<text class="k e" x="468.8" y="297.2">40</text>
<text class="k e" x="468.8" y="260.45">60</text>
<text class="k e" x="468.8" y="223.7">80</text>
<text class="k e" transform="translate(480.1 377.3) rotate(-45)">0</text>
<text class="k e" transform="translate(500.34 377.3) rotate(-45)">50</text>
<text class="k e" transform="translate(520.58 377.3) rotate(-45)">100</text>
<text class="k e" transform="translate(540.82 377.3) rotate(-45)">150</text>
<text class="k e" transform="translate(561.06 377.3) rotate(-45)">200</text>
<text class="k e" transform="translate(581.3 377.3) rotate(-45)">250</text>
<text class="k e" transform="translate(601.54 377.3) rotate(-45)">300</text>
<text class="k e" transform="translate(621.78 377.3) rotate(-45)">350</text>
<text class="k e" transform="translate(642.02 377.3) rotate(-45)">400</text>
<text class="k e" transform="translate(662.26 377.3) rotate(-45)">450</text>
<text class="k e" transform="translate(682.5 377.3) rotate(-45)">500</text>
<text class="ti" x="573.8" y="215.6">Diversity(CEC2)</text>
<rect x="608.2" y="224.1" width="61.3" height="26.4" fill="#fff" stroke="#4a4a4a" stroke-width="1.1"/>
<rect x="610.3" y="226.6" width="19" height="8.7" fill="#ff0000" fill-opacity="0.7" stroke="#000" stroke-width="0.9"/>
<rect x="610.3" y="239.4" width="19" height="8.7" fill="#00ffff" fill-opacity="0.5" stroke="#000" stroke-width="0.9"/>
<text class="lg" textLength="36.7" lengthAdjust="spacingAndGlyphs" x="630.5" y="235">GPSOM</text>
<text class="lg" textLength="20.8" lengthAdjust="spacingAndGlyphs" x="630.5" y="247.8">PSO</text></g>
<g><path d="M16 549.5L16 469L16.2 469L17.6 460L18.8 455L20.4 457L22.4 457.6L24 455L25 464L26.4 469L27.4 468.82L28.4 469L30 471L31 472.48L32 473.6L33 473.44L34 473L35.2 472.7L36.4 472.4L37.4 473.02L38.4 474L39.6 477L40.6 486L42 496L43.2 504.4L44.4 504L45.6 496L46.6 494.4L48 499L49 508L49.6 520L50.4 526.4L52 527L53 527.78L54 528L55 528.42L56 529.26L57 529.6L58 530.11L59 530.77L60 531.6L61 532.02L62 532.01L63 532.4L64 532.54L65 532.13L66 532L67 532.61L68 533.43L69 534.4L70 534.75L71 535.3L72 535.6L73 536L74 535.65L75 536L76 536.94L77 538L78 538.36L79 539.35L80 539.6L81 539.85L82 540.26L83 541L84 541.27L85 542L86 542.6L87 543.17L88 543.5L89 543.6L90 543.84L91 544.1L92 544.16L93 544L94 544L95 544.01L96 544.56L97 544.4L98 544.95L99 544.92L100 545.6L101 546.05L102 546.23L103 546.57L104 547L105 547.15L106 547.3L107 547.45L108 548L114 548.2L151 548.2L219.6 548.2L219.6 549.5Z" fill="#ff0000" fill-opacity="0.7" stroke="none"/><path d="M16 469L16.2 469L17.6 460L18.8 455L20.4 457L22.4 457.6L24 455L25 464L26.4 469L27.4 468.82L28.4 469L30 471L31 472.48L32 473.6L33 473.44L34 473L35.2 472.7L36.4 472.4L37.4 473.02L38.4 474L39.6 477L40.6 486L42 496L43.2 504.4L44.4 504L45.6 496L46.6 494.4L48 499L49 508L49.6 520L50.4 526.4L52 527L53 527.78L54 528L55 528.42L56 529.26L57 529.6L58 530.11L59 530.77L60 531.6L61 532.02L62 532.01L63 532.4L64 532.54L65 532.13L66 532L67 532.61L68 533.43L69 534.4L70 534.75L71 535.3L72 535.6L73 536L74 535.65L75 536L76 536.94L77 538L78 538.36L79 539.35L80 539.6L81 539.85L82 540.26L83 541L84 541.27L85 542L86 542.6L87 543.17L88 543.5L89 543.6L90 543.84L91 544.1L92 544.16L93 544L94 544L95 544.01L96 544.56L97 544.4L98 544.95L99 544.92L100 545.6L101 546.05L102 546.23L103 546.57L104 547L105 547.15L106 547.3L107 547.45L108 548L114 548.2L151 548.2L219.6 548.2" fill="none" stroke="#000" stroke-width="1" stroke-linejoin="round" stroke-opacity="1"/>
<path d="M16 549.5L16 426L16.2 426L17.2 446L18.4 468L19.6 486L21 500L23 511L25 518L26 518.73L27 520L28 519.56L29 519.6L30 520.5L31 521L32 521.37L33 522L34 523.76L35 525L36 525.52L37 526.19L38 527L39 527.34L40 527.48L41 528L42 528.59L43 529.61L44 530L45 531.23L46 532.19L47 533L48 533.75L49 534.58L50 535L51 535.73L52 535.96L53 536.4L54 536.73L55 536.53L56 537L57 536.81L58 536.3L59 536L60 536.82L61 537.42L62 538L63 537.74L64 537.46L65 537.6L66 538.99L67 539.64L68 541L69 540.65L70 540.24L71 540L72 539.08L73 538.54L74 537.6L75 537.59L76 537L77 538.36L78 540L79 541.29L80 542.28L81 543.6L82 544.3L83 544.87L84 545.6L85 545.73L86 546.06L87 546.6L88 546.56L89 547.11L90 547L91 546.65L92 546.13L93 546.19L94 545.6L95 545.5L96 544.77L97 544.4L98 543.48L99 543L100.4 541L101.7 541.12L103 541.6L104 542.05L105 543L106 544.41L107 546L108 546.29L109 546.91L110 547.6L111 547.36L112 547.44L113 547.53L114 547.2L115 547.15L116 546.75L117 546.55L118 546.4L119 546.15L120 545.79L121 545.6L122.3 544.9L123.6 544.4L124.8 544.54L126 545.2L127 544.97L128 545.28L129 544.68L130 544.8L131 544.95L132 545.18L133 545.47L134 545.4L135 545.2L136 545.2L137 545.15L138 545.21L139 545.2L140 545.2L141 545.51L142 545.48L143 545.52L144 545.05L145 545.09L146 545.4L147 545.53L148 545.64L149 545.38L150 545.45L151 545.4L152 545.1L153 545.33L154 545.4L155 545.49L156 545.26L157 545.11L158 545.02L159 544.42L160 544.4L161 544.07L162 543.99L163 544.11L164 544L165 544.36L166 544.76L167 544.88L168 545L169 545.06L170 545.11L171 544.9L172 544.93L173 544.6L174 545.02L175 544.66L176 544.8L177 545.2L178 545.19L179 545.13L180 545.4L180.91 545.14L181.82 545.18L182.73 545.37L183.64 545.37L184.55 544.99L185.45 544.92L186.36 545.16L187.27 545.16L188.18 545.01L189.09 544.87L190 545L190.91 545.08L191.82 544.74L192.73 544.94L193.64 545.05L194.55 545.37L195.45 545.2L196.36 545.36L197.27 545.13L198.18 545L199.09 545.03L200 545.2L201 545.08L202 544.4L202.6 535.6L203.2 545.4L204.16 545.56L205.12 545.36L206.08 545.23L207.04 545.56L208 545.6L209 545.6L210 545.35L211 545.15L212 545.3L213 545.36L214 545L214.93 544.94L215.87 544.92L216.8 545.2L217.73 545.35L218.67 545.61L219.6 545.6L219.6 549.5Z" fill="#00ffff" fill-opacity="0.5" stroke="none"/><path d="M16 426L16.2 426L17.2 446L18.4 468L19.6 486L21 500L23 511L25 518L26 518.73L27 520L28 519.56L29 519.6L30 520.5L31 521L32 521.37L33 522L34 523.76L35 525L36 525.52L37 526.19L38 527L39 527.34L40 527.48L41 528L42 528.59L43 529.61L44 530L45 531.23L46 532.19L47 533L48 533.75L49 534.58L50 535L51 535.73L52 535.96L53 536.4L54 536.73L55 536.53L56 537L57 536.81L58 536.3L59 536L60 536.82L61 537.42L62 538L63 537.74L64 537.46L65 537.6L66 538.99L67 539.64L68 541L69 540.65L70 540.24L71 540L72 539.08L73 538.54L74 537.6L75 537.59L76 537L77 538.36L78 540L79 541.29L80 542.28L81 543.6L82 544.3L83 544.87L84 545.6L85 545.73L86 546.06L87 546.6L88 546.56L89 547.11L90 547L91 546.65L92 546.13L93 546.19L94 545.6L95 545.5L96 544.77L97 544.4L98 543.48L99 543L100.4 541L101.7 541.12L103 541.6L104 542.05L105 543L106 544.41L107 546L108 546.29L109 546.91L110 547.6L111 547.36L112 547.44L113 547.53L114 547.2L115 547.15L116 546.75L117 546.55L118 546.4L119 546.15L120 545.79L121 545.6L122.3 544.9L123.6 544.4L124.8 544.54L126 545.2L127 544.97L128 545.28L129 544.68L130 544.8L131 544.95L132 545.18L133 545.47L134 545.4L135 545.2L136 545.2L137 545.15L138 545.21L139 545.2L140 545.2L141 545.51L142 545.48L143 545.52L144 545.05L145 545.09L146 545.4L147 545.53L148 545.64L149 545.38L150 545.45L151 545.4L152 545.1L153 545.33L154 545.4L155 545.49L156 545.26L157 545.11L158 545.02L159 544.42L160 544.4L161 544.07L162 543.99L163 544.11L164 544L165 544.36L166 544.76L167 544.88L168 545L169 545.06L170 545.11L171 544.9L172 544.93L173 544.6L174 545.02L175 544.66L176 544.8L177 545.2L178 545.19L179 545.13L180 545.4L180.91 545.14L181.82 545.18L182.73 545.37L183.64 545.37L184.55 544.99L185.45 544.92L186.36 545.16L187.27 545.16L188.18 545.01L189.09 544.87L190 545L190.91 545.08L191.82 544.74L192.73 544.94L193.64 545.05L194.55 545.37L195.45 545.2L196.36 545.36L197.27 545.13L198.18 545L199.09 545.03L200 545.2L201 545.08L202 544.4L202.6 535.6L203.2 545.4L204.16 545.56L205.12 545.36L206.08 545.23L207.04 545.56L208 545.6L209 545.6L210 545.35L211 545.15L212 545.3L213 545.36L214 545L214.93 544.94L215.87 544.92L216.8 545.2L217.73 545.35L218.67 545.61L219.6 545.6" fill="none" stroke="#000" stroke-width="1" stroke-linejoin="round" stroke-opacity="1"/>
<rect x="16" y="402.4" width="203.6" height="147.1" fill="none" stroke="#585858" stroke-width="0.8"/>
<path d="M36.36 549.5v-2.1 M36.36 402.4v2.1M56.72 549.5v-2.1 M56.72 402.4v2.1M77.08 549.5v-2.1 M77.08 402.4v2.1M97.44 549.5v-2.1 M97.44 402.4v2.1M117.8 549.5v-2.1 M117.8 402.4v2.1M138.16 549.5v-2.1 M138.16 402.4v2.1M158.52 549.5v-2.1 M158.52 402.4v2.1M178.88 549.5v-2.1 M178.88 402.4v2.1M199.24 549.5v-2.1 M199.24 402.4v2.1M16 520.08h2.1 M219.6 520.08h-2.1M16 490.66h2.1 M219.6 490.66h-2.1M16 461.24h2.1 M219.6 461.24h-2.1M16 431.82h2.1 M219.6 431.82h-2.1" stroke="#585858" stroke-width="0.8" fill="none"/>
<text class="k e" x="12.2" y="553.6">0</text>
<text class="k e" x="12.2" y="524.18">5</text>
<text class="k e" x="12.2" y="494.76">10</text>
<text class="k e" x="12.2" y="465.34">15</text>
<text class="k e" x="12.2" y="435.92">20</text>
<text class="k e" x="12.2" y="406.5">25</text>
<text class="k e" transform="translate(23.5 560.2) rotate(-45)">0</text>
<text class="k e" transform="translate(43.86 560.2) rotate(-45)">50</text>
<text class="k e" transform="translate(64.22 560.2) rotate(-45)">100</text>
<text class="k e" transform="translate(84.58 560.2) rotate(-45)">150</text>
<text class="k e" transform="translate(104.94 560.2) rotate(-45)">200</text>
<text class="k e" transform="translate(125.3 560.2) rotate(-45)">250</text>
<text class="k e" transform="translate(145.66 560.2) rotate(-45)">300</text>
<text class="k e" transform="translate(166.02 560.2) rotate(-45)">350</text>
<text class="k e" transform="translate(186.38 560.2) rotate(-45)">400</text>
<text class="k e" transform="translate(206.74 560.2) rotate(-45)">450</text>
<text class="k e" transform="translate(227.1 560.2) rotate(-45)">500</text>
<text class="ti" x="117.8" y="398.4">Diversity(CEC6)</text>
<rect x="153.2" y="407.5" width="61.3" height="26.4" fill="#fff" stroke="#4a4a4a" stroke-width="1.1"/>
<rect x="155.3" y="410" width="19" height="8.7" fill="#ff0000" fill-opacity="0.7" stroke="#000" stroke-width="0.9"/>
<rect x="155.3" y="422.8" width="19" height="8.7" fill="#00ffff" fill-opacity="0.5" stroke="#000" stroke-width="0.9"/>
<text class="lg" textLength="36.7" lengthAdjust="spacingAndGlyphs" x="175.5" y="418.4">GPSOM</text>
<text class="lg" textLength="20.8" lengthAdjust="spacingAndGlyphs" x="175.5" y="431.2">PSO</text></g>
<g><path d="M244.4 550L244.4 480L244.8 480L246 476L248 473L251 472.4L254 472L255 472.35L256 473.2L257 473.6L258 474.42L259 475.6L260 475L261 475L262 477.24L263 479L264 480.95L265 483L267 489L268.4 498L270 503L271 505.19L272 507L273 508.24L274 509.6L275 510.53L276 511L277 518L278 524L279 523.48L280 523L281 523.1L282 523.6L283.2 522.31L284.4 521.6L285.7 520.83L287 520L288 520.88L289 521.6L290.3 521.55L291.6 521L292.8 521.75L294 523L295 524.07L296 524.92L297 526L298 527L299 527.79L300 529L301 528.87L302 529.01L303 529L304 528.79L305 527.83L306 527.6L307 527.39L308 527.38L309 527L310 527.61L311 527.49L312 528L313 526.28L314 525L315 524L316 526.07L317 527.6L318 528.69L319 529.19L320 530L321 530.73L322 532.26L323 533L324 533.93L325 535.24L326 536L327 536.61L328 537.26L329 537.6L330 537.66L331 538.3L332 538.4L333 538.1L334 538.08L335 538L336 538.07L337 537.93L338 537.6L339 537.21L340 537.03L341 537L342 537.27L343 537.68L344 538L345 537.6L346 537.11L347 537L348 537.18L349 537.8L350 538L351 538.77L352 538.79L353 539.6L354 539.9L355 540.29L356 540.4L357 540.32L358 541L359 541L360 541.24L361 541.99L362 542.4L363 542.96L364 543.54L365 544L366 544.55L367 545.29L368 546L369 546.58L370 547.02L371 547.6L372 547.9L373 547.97L374 548.2L377 548.4L396 548.2L397 547.76L398 547.11L399 547L400 547.67L401 548.2L446.4 548.6L446.4 550Z" fill="#ff0000" fill-opacity="0.7" stroke="none"/><path d="M244.4 480L244.8 480L246 476L248 473L251 472.4L254 472L255 472.35L256 473.2L257 473.6L258 474.42L259 475.6L260 475L261 475L262 477.24L263 479L264 480.95L265 483L267 489L268.4 498L270 503L271 505.19L272 507L273 508.24L274 509.6L275 510.53L276 511L277 518L278 524L279 523.48L280 523L281 523.1L282 523.6L283.2 522.31L284.4 521.6L285.7 520.83L287 520L288 520.88L289 521.6L290.3 521.55L291.6 521L292.8 521.75L294 523L295 524.07L296 524.92L297 526L298 527L299 527.79L300 529L301 528.87L302 529.01L303 529L304 528.79L305 527.83L306 527.6L307 527.39L308 527.38L309 527L310 527.61L311 527.49L312 528L313 526.28L314 525L315 524L316 526.07L317 527.6L318 528.69L319 529.19L320 530L321 530.73L322 532.26L323 533L324 533.93L325 535.24L326 536L327 536.61L328 537.26L329 537.6L330 537.66L331 538.3L332 538.4L333 538.1L334 538.08L335 538L336 538.07L337 537.93L338 537.6L339 537.21L340 537.03L341 537L342 537.27L343 537.68L344 538L345 537.6L346 537.11L347 537L348 537.18L349 537.8L350 538L351 538.77L352 538.79L353 539.6L354 539.9L355 540.29L356 540.4L357 540.32L358 541L359 541L360 541.24L361 541.99L362 542.4L363 542.96L364 543.54L365 544L366 544.55L367 545.29L368 546L369 546.58L370 547.02L371 547.6L372 547.9L373 547.97L374 548.2L377 548.4L396 548.2L397 547.76L398 547.11L399 547L400 547.67L401 548.2L446.4 548.6" fill="none" stroke="#000" stroke-width="1" stroke-linejoin="round" stroke-opacity="1"/>
<path d="M244.4 550L244.4 411L244.8 411L246 440L247.2 466L248.4 494L249.6 512L251 519L253 521.6L254 522.27L255 523.11L256 524L257 524.61L258 524.44L259 525L260 526.28L261 526.82L262 528L263 528.91L264 530.19L265 531L266 531.66L267 531.89L268 532.4L269 532.8L270 533.72L271 534.4L272 534.32L273 534.65L274 534.4L275 534.08L276 534.05L277 534L278 534.37L279 533.98L280 534.4L281 534.45L282 534.79L283 534.86L284 534.52L285 534.62L286 535L287 534.74L288 535.25L289 534.85L290 535.15L291 535.24L292 535L293 535.07L294 535.2L295 535.77L296 535.74L297 535.69L298 536L299 536.23L300 536.09L301 536.17L302 536.1L303 536.65L304 536.6L305 536.98L306 536.95L307 537.27L308 536.85L309 537.11L310 537.4L311 537.35L312 537.61L313 537.57L314 537.2L315 537.08L316 537.2L317 537.09L318 537.06L319 537.26L320 536.74L321 537.05L322 536.8L323 536.99L324 537.09L325 537.11L326 537L327 536.86L328 536.5L329 536.4L330 536.37L331 536.48L332 536.81L333 536.47L334 536.8L335 536.67L336 537.05L337 536.8L338 537L339 536.49L340 536.22L341 536.28L342 536L343 535.76L344 536.02L345 535.6L346 535.23L347 534.4L348 534.83L349 534.53L350 534.8L351 534.52L352 534.49L353 534.7L354 534.79L355 534.6L356 534.6L357 534.41L358 534.48L359 534.57L360 534.57L361 534.58L362 534.4L363 534.61L364 534.5L365 534.17L366 534.6L367 534.28L368 534.4L368.9 534.5L369.8 534.44L370.7 534.72L371.6 534.46L372.5 534.55L373.4 534.61L374.3 534.61L375.2 535.11L376.1 534.99L377 535L378 535.26L379 535.66L380 536.38L381 536.44L382 536.8L383 536.69L384 537.09L385 537.04L386 537.29L387 536.81L388 537.08L389 537.34L390 537.2L390.91 537.48L391.82 537.59L392.73 537.14L393.64 537.37L394.55 537.34L395.45 537.45L396.36 537.99L397.27 537.83L398.18 538.11L399.09 537.85L400 538L400.91 538.31L401.82 538.15L402.73 538.13L403.64 538.53L404.55 538.72L405.45 538.31L406.36 538.69L407.27 538.8L408.18 538.65L409.09 538.83L410 539L411 539.02L412 539.29L413 539.55L414 539.99L415 540.26L416 540.4L417 539.56L418 538.77L419 538.4L420 538.22L421 538.35L422 537.97L423 537.97L424 538L424.91 537.82L425.82 538.18L426.73 538.03L427.64 537.74L428.55 537.76L429.45 537.94L430.36 538.03L431.27 538.08L432.18 537.75L433.09 537.8L434 538L434.95 538.09L435.91 537.88L436.86 537.78L437.82 537.76L438.77 538.12L439.72 537.7L440.68 537.82L441.63 537.67L442.58 537.67L443.54 537.91L444.49 537.96L445.45 537.55L446.4 537.6L446.4 550Z" fill="#00ffff" fill-opacity="0.5" stroke="none"/><path d="M244.4 411L244.8 411L246 440L247.2 466L248.4 494L249.6 512L251 519L253 521.6L254 522.27L255 523.11L256 524L257 524.61L258 524.44L259 525L260 526.28L261 526.82L262 528L263 528.91L264 530.19L265 531L266 531.66L267 531.89L268 532.4L269 532.8L270 533.72L271 534.4L272 534.32L273 534.65L274 534.4L275 534.08L276 534.05L277 534L278 534.37L279 533.98L280 534.4L281 534.45L282 534.79L283 534.86L284 534.52L285 534.62L286 535L287 534.74L288 535.25L289 534.85L290 535.15L291 535.24L292 535L293 535.07L294 535.2L295 535.77L296 535.74L297 535.69L298 536L299 536.23L300 536.09L301 536.17L302 536.1L303 536.65L304 536.6L305 536.98L306 536.95L307 537.27L308 536.85L309 537.11L310 537.4L311 537.35L312 537.61L313 537.57L314 537.2L315 537.08L316 537.2L317 537.09L318 537.06L319 537.26L320 536.74L321 537.05L322 536.8L323 536.99L324 537.09L325 537.11L326 537L327 536.86L328 536.5L329 536.4L330 536.37L331 536.48L332 536.81L333 536.47L334 536.8L335 536.67L336 537.05L337 536.8L338 537L339 536.49L340 536.22L341 536.28L342 536L343 535.76L344 536.02L345 535.6L346 535.23L347 534.4L348 534.83L349 534.53L350 534.8L351 534.52L352 534.49L353 534.7L354 534.79L355 534.6L356 534.6L357 534.41L358 534.48L359 534.57L360 534.57L361 534.58L362 534.4L363 534.61L364 534.5L365 534.17L366 534.6L367 534.28L368 534.4L368.9 534.5L369.8 534.44L370.7 534.72L371.6 534.46L372.5 534.55L373.4 534.61L374.3 534.61L375.2 535.11L376.1 534.99L377 535L378 535.26L379 535.66L380 536.38L381 536.44L382 536.8L383 536.69L384 537.09L385 537.04L386 537.29L387 536.81L388 537.08L389 537.34L390 537.2L390.91 537.48L391.82 537.59L392.73 537.14L393.64 537.37L394.55 537.34L395.45 537.45L396.36 537.99L397.27 537.83L398.18 538.11L399.09 537.85L400 538L400.91 538.31L401.82 538.15L402.73 538.13L403.64 538.53L404.55 538.72L405.45 538.31L406.36 538.69L407.27 538.8L408.18 538.65L409.09 538.83L410 539L411 539.02L412 539.29L413 539.55L414 539.99L415 540.26L416 540.4L417 539.56L418 538.77L419 538.4L420 538.22L421 538.35L422 537.97L423 537.97L424 538L424.91 537.82L425.82 538.18L426.73 538.03L427.64 537.74L428.55 537.76L429.45 537.94L430.36 538.03L431.27 538.08L432.18 537.75L433.09 537.8L434 538L434.95 538.09L435.91 537.88L436.86 537.78L437.82 537.76L438.77 538.12L439.72 537.7L440.68 537.82L441.63 537.67L442.58 537.67L443.54 537.91L444.49 537.96L445.45 537.55L446.4 537.6" fill="none" stroke="#000" stroke-width="1" stroke-linejoin="round" stroke-opacity="1"/>
<rect x="244.4" y="402.4" width="202" height="147.6" fill="none" stroke="#585858" stroke-width="0.8"/>
<path d="M264.6 550v-2.1 M264.6 402.4v2.1M284.8 550v-2.1 M284.8 402.4v2.1M305 550v-2.1 M305 402.4v2.1M325.2 550v-2.1 M325.2 402.4v2.1M345.4 550v-2.1 M345.4 402.4v2.1M365.6 550v-2.1 M365.6 402.4v2.1M385.8 550v-2.1 M385.8 402.4v2.1M406 550v-2.1 M406 402.4v2.1M426.2 550v-2.1 M426.2 402.4v2.1M244.4 520.48h2.1 M446.4 520.48h-2.1M244.4 490.96h2.1 M446.4 490.96h-2.1M244.4 461.44h2.1 M446.4 461.44h-2.1M244.4 431.92h2.1 M446.4 431.92h-2.1" stroke="#585858" stroke-width="0.8" fill="none"/>
<text class="k e" x="240.6" y="554.1">0</text>
<text class="k e" x="240.6" y="524.58">10</text>
<text class="k e" x="240.6" y="495.06">20</text>
<text class="k e" x="240.6" y="465.54">30</text>
<text class="k e" x="240.6" y="436.02">40</text>
<text class="k e" x="240.6" y="406.5">50</text>
<text class="k e" transform="translate(251.9 560.7) rotate(-45)">0</text>
<text class="k e" transform="translate(272.1 560.7) rotate(-45)">50</text>
<text class="k e" transform="translate(292.3 560.7) rotate(-45)">100</text>
<text class="k e" transform="translate(312.5 560.7) rotate(-45)">150</text>
<text class="k e" transform="translate(332.7 560.7) rotate(-45)">200</text>
<text class="k e" transform="translate(352.9 560.7) rotate(-45)">250</text>
<text class="k e" transform="translate(373.1 560.7) rotate(-45)">300</text>
<text class="k e" transform="translate(393.3 560.7) rotate(-45)">350</text>
<text class="k e" transform="translate(413.5 560.7) rotate(-45)">400</text>
<text class="k e" transform="translate(433.7 560.7) rotate(-45)">450</text>
<text class="k e" transform="translate(453.9 560.7) rotate(-45)">500</text>
<text class="ti" x="345.4" y="398.4">Diversity(CEC6)</text>
<rect x="380.2" y="407.5" width="61.3" height="26.4" fill="#fff" stroke="#4a4a4a" stroke-width="1.1"/>
<rect x="382.3" y="410" width="19" height="8.7" fill="#ff0000" fill-opacity="0.7" stroke="#000" stroke-width="0.9"/>
<rect x="382.3" y="422.8" width="19" height="8.7" fill="#00ffff" fill-opacity="0.5" stroke="#000" stroke-width="0.9"/>
<text class="lg" textLength="36.7" lengthAdjust="spacingAndGlyphs" x="402.5" y="418.4">GPSOM</text>
<text class="lg" textLength="20.8" lengthAdjust="spacingAndGlyphs" x="402.5" y="431.2">PSO</text></g>
<g><path d="M471.7 550L471.7 500L473 496L475 492.4L478 493L481 493.6L482 493.17L483 493.25L484 493.2L485 493.36L486 494L487 495.91L488 498L489 499.17L490 500.72L491 502L492 503.05L493 503.82L494 505L495 506.07L496 507L497 507.98L498 509L499 510.78L500 513L501 515.26L502 517L503 518.85L504 521L505.6 526L507 532L508.4 537L509.7 538.29L511 540L512 540.29L513 541.15L514 541.6L515 542.29L516 542.7L517 543L518 543.27L519 543.53L520 544L521 543.37L522 543.42L523 543L524 543.54L525 544L526 542.71L527 541.6L528 542.39L529 543L530.4 541.6L532 544L533 544.23L534 544.8L535 544.8L536 545.07L537 544.92L538 545.2L539 545.34L540 544.73L541 544.92L542 544.8L543 544.74L544 544.64L545 544.54L546 544.8L547 545.02L548 544.61L549 544.98L550 545L551 545.21L552 544.69L553 544.67L554 544.8L555 544.73L556 544.54L557 544.4L558 544.82L559 545.25L560 545.4L561 544.8L562 544.49L563 544.2L564 544.48L565 544.73L566 545.4L567 545.3L568 544.9L569 544.4L570 544.86L571 544.77L572 545.4L573 545.07L574 544.48L575 543.8L576 544.58L577 545.4L578 545.45L579 545.17L580 544.94L581 545L582 544.96L583 545.24L584 545.32L585 545.7L586 546L587 546.27L588 546.37L589 546.58L590 546.63L591 546.48L592 546.78L593 546.84L594 547L594.9 547.21L595.8 547.09L596.7 546.98L597.6 547.25L598.5 547.48L599.4 547.07L600.3 547.51L601.2 547.03L602.1 547.22L603 547.4L604 547.36L605 547.79L606 548.03L607 548.03L608 548L628 548.4L675.6 548.6L675.8 548.6L675.8 550Z" fill="#ff0000" fill-opacity="0.7" stroke="none"/><path d="M471.7 500L473 496L475 492.4L478 493L481 493.6L482 493.17L483 493.25L484 493.2L485 493.36L486 494L487 495.91L488 498L489 499.17L490 500.72L491 502L492 503.05L493 503.82L494 505L495 506.07L496 507L497 507.98L498 509L499 510.78L500 513L501 515.26L502 517L503 518.85L504 521L505.6 526L507 532L508.4 537L509.7 538.29L511 540L512 540.29L513 541.15L514 541.6L515 542.29L516 542.7L517 543L518 543.27L519 543.53L520 544L521 543.37L522 543.42L523 543L524 543.54L525 544L526 542.71L527 541.6L528 542.39L529 543L530.4 541.6L532 544L533 544.23L534 544.8L535 544.8L536 545.07L537 544.92L538 545.2L539 545.34L540 544.73L541 544.92L542 544.8L543 544.74L544 544.64L545 544.54L546 544.8L547 545.02L548 544.61L549 544.98L550 545L551 545.21L552 544.69L553 544.67L554 544.8L555 544.73L556 544.54L557 544.4L558 544.82L559 545.25L560 545.4L561 544.8L562 544.49L563 544.2L564 544.48L565 544.73L566 545.4L567 545.3L568 544.9L569 544.4L570 544.86L571 544.77L572 545.4L573 545.07L574 544.48L575 543.8L576 544.58L577 545.4L578 545.45L579 545.17L580 544.94L581 545L582 544.96L583 545.24L584 545.32L585 545.7L586 546L587 546.27L588 546.37L589 546.58L590 546.63L591 546.48L592 546.78L593 546.84L594 547L594.9 547.21L595.8 547.09L596.7 546.98L597.6 547.25L598.5 547.48L599.4 547.07L600.3 547.51L601.2 547.03L602.1 547.22L603 547.4L604 547.36L605 547.79L606 548.03L607 548.03L608 548L628 548.4L675.6 548.6L675.8 548.6" fill="none" stroke="#000" stroke-width="1" stroke-linejoin="round" stroke-opacity="1"/>
<path d="M471.7 550L471.7 428L472.6 456L473.6 480L474.8 504L476 518L477.6 528L479 534L480 532L481 533.19L482 534.4L483 534.91L484 535.89L485 536.4L486 536.97L487 537.17L488 537.6L489 537.01L490 536.78L491 536.4L492 536.56L493 536.98L494 537.6L495 537.43L496 537.09L497 537.2L498 537.3L499 537.47L500 537.6L501 537.46L502 537.95L503 538L504 537.62L505 537.87L506 537.6L507 538.23L508 538.54L509 539L510 539.2L511 539.94L512 540.4L513 540.99L514 542L515 542.4L516 542.58L517 543.41L518 543.6L519 544L520 543.94L521 544.09L522 544L523 543.92L524 544.49L525 544.3L526 544.4L527 544.57L528 544.45L529 543.9L530 544L531 544.07L532 544.06L533 543.44L534 543.6L535 543.31L536 543.35L537 543L538 542.6L539 542.84L540 542.4L541 542.46L542 542.99L543 543L544 543.25L545 543.93L546 544.4L547 545L548 544.92L549 545.31L550 545.8L551 545.97L552 546.02L553 546.02L554 546.28L555 546.43L556 546.8L557 547.03L558 546.84L559 546.94L560 546.47L561 546.8L562 546.6L563 546.44L564 546.75L565 546.88L566 546.78L567 547.16L568 547L569 547L570 546.98L571 547.13L572 546.63L573 547.13L574 546.8L575 546.94L576 546.87L577 547.18L578 546.93L579 547.43L580 547.2L581 547.28L582 547.18L583 547.46L584 547.3L585 547.17L586 547.4L587 547.57L588 547.18L589 547.67L590 547.35L591 547.61L592 547.84L593 547.63L594 547.6L594.9 547.7L595.8 547.49L596.7 547.3L597.6 547.32L598.5 547.39L599.4 547.67L600.3 547.56L601.2 547.61L602.1 547.84L603 547.6L604 547.46L605 547.6L606 547.93L607 547.63L608 548L628 548.2L648 548.4L675.6 548.6L675.8 548.6L675.8 550Z" fill="#00ffff" fill-opacity="0.5" stroke="none"/><path d="M471.7 428L472.6 456L473.6 480L474.8 504L476 518L477.6 528L479 534L480 532L481 533.19L482 534.4L483 534.91L484 535.89L485 536.4L486 536.97L487 537.17L488 537.6L489 537.01L490 536.78L491 536.4L492 536.56L493 536.98L494 537.6L495 537.43L496 537.09L497 537.2L498 537.3L499 537.47L500 537.6L501 537.46L502 537.95L503 538L504 537.62L505 537.87L506 537.6L507 538.23L508 538.54L509 539L510 539.2L511 539.94L512 540.4L513 540.99L514 542L515 542.4L516 542.58L517 543.41L518 543.6L519 544L520 543.94L521 544.09L522 544L523 543.92L524 544.49L525 544.3L526 544.4L527 544.57L528 544.45L529 543.9L530 544L531 544.07L532 544.06L533 543.44L534 543.6L535 543.31L536 543.35L537 543L538 542.6L539 542.84L540 542.4L541 542.46L542 542.99L543 543L544 543.25L545 543.93L546 544.4L547 545L548 544.92L549 545.31L550 545.8L551 545.97L552 546.02L553 546.02L554 546.28L555 546.43L556 546.8L557 547.03L558 546.84L559 546.94L560 546.47L561 546.8L562 546.6L563 546.44L564 546.75L565 546.88L566 546.78L567 547.16L568 547L569 547L570 546.98L571 547.13L572 546.63L573 547.13L574 546.8L575 546.94L576 546.87L577 547.18L578 546.93L579 547.43L580 547.2L581 547.28L582 547.18L583 547.46L584 547.3L585 547.17L586 547.4L587 547.57L588 547.18L589 547.67L590 547.35L591 547.61L592 547.84L593 547.63L594 547.6L594.9 547.7L595.8 547.49L596.7 547.3L597.6 547.32L598.5 547.39L599.4 547.67L600.3 547.56L601.2 547.61L602.1 547.84L603 547.6L604 547.46L605 547.6L606 547.93L607 547.63L608 548L628 548.2L648 548.4L675.6 548.6L675.8 548.6" fill="none" stroke="#000" stroke-width="1" stroke-linejoin="round" stroke-opacity="1"/>
<rect x="471.7" y="403.6" width="204.1" height="146.4" fill="none" stroke="#585858" stroke-width="0.8"/>
<path d="M492.11 550v-2.1 M492.11 403.6v2.1M512.52 550v-2.1 M512.52 403.6v2.1M532.93 550v-2.1 M532.93 403.6v2.1M553.34 550v-2.1 M553.34 403.6v2.1M573.75 550v-2.1 M573.75 403.6v2.1M594.16 550v-2.1 M594.16 403.6v2.1M614.57 550v-2.1 M614.57 403.6v2.1M634.98 550v-2.1 M634.98 403.6v2.1M655.39 550v-2.1 M655.39 403.6v2.1M471.7 513.4h2.1 M675.8 513.4h-2.1M471.7 476.8h2.1 M675.8 476.8h-2.1M471.7 440.2h2.1 M675.8 440.2h-2.1" stroke="#585858" stroke-width="0.8" fill="none"/>
<text class="k e" x="467.9" y="554.1">0</text>
<text class="k e" x="467.9" y="517.5">20</text>
<text class="k e" x="467.9" y="480.9">40</text>
<text class="k e" x="467.9" y="444.3">60</text>
<text class="k e" x="467.9" y="407.7">80</text>
<text class="k e" transform="translate(479.2 560.7) rotate(-45)">0</text>
<text class="k e" transform="translate(499.61 560.7) rotate(-45)">50</text>
<text class="k e" transform="translate(520.02 560.7) rotate(-45)">100</text>
<text class="k e" transform="translate(540.43 560.7) rotate(-45)">150</text>
<text class="k e" transform="translate(560.84 560.7) rotate(-45)">200</text>
<text class="k e" transform="translate(581.25 560.7) rotate(-45)">250</text>
<text class="k e" transform="translate(601.66 560.7) rotate(-45)">300</text>
<text class="k e" transform="translate(622.07 560.7) rotate(-45)">350</text>
<text class="k e" transform="translate(642.48 560.7) rotate(-45)">400</text>
<text class="k e" transform="translate(662.89 560.7) rotate(-45)">450</text>
<text class="k e" transform="translate(683.3 560.7) rotate(-45)">500</text>
<text class="ti" x="573.75" y="399.6">Diversity(CEC6)</text>
<rect x="608.2" y="408.1" width="61.3" height="26.4" fill="#fff" stroke="#4a4a4a" stroke-width="1.1"/>
<rect x="610.3" y="410.6" width="19" height="8.7" fill="#ff0000" fill-opacity="0.7" stroke="#000" stroke-width="0.9"/>
<rect x="610.3" y="423.4" width="19" height="8.7" fill="#00ffff" fill-opacity="0.5" stroke="#000" stroke-width="0.9"/>
<text class="lg" textLength="36.7" lengthAdjust="spacingAndGlyphs" x="630.5" y="419">GPSOM</text>
<text class="lg" textLength="20.8" lengthAdjust="spacingAndGlyphs" x="630.5" y="431.8">PSO</text></g>
<rect x="0" y="572.4" width="685" height="4.6" fill="#fff"/>
<g><path d="M16.2 733.5L16.2 693.72L16.34 693.72L19.71 724.38L24.31 721.82L25.33 722.45L26.35 722.54L27.37 722.25L28.39 722.26L29.42 722.15L30.44 722.33L31.71 723.33L32.99 724.89L34.01 726.37L35.04 727.44L36.06 730L37.08 732.76L38.1 733.17L220 733.17L220 733.5Z" fill="#ff0000" fill-opacity="0.7" stroke="none"/><path d="M16.2 693.72L16.34 693.72L19.71 724.38L24.31 721.82L25.33 722.45L26.35 722.54L27.37 722.25L28.39 722.26L29.42 722.15L30.44 722.33L31.71 723.33L32.99 724.89L34.01 726.37L35.04 727.44L36.06 730L37.08 732.76L38.1 733.17L220 733.17" fill="none" stroke="#000" stroke-width="1" stroke-linejoin="round" stroke-opacity="1"/>
<path d="M16.2 733.5L16.2 613L16.4 613L17.6 632L19 662L20.22 670.22L21.75 700.87L23.8 717.22L25.33 721.31L26.35 723.25L27.37 725.4L28.39 727.16L29.42 728.47L30.69 728.87L31.97 729.49L33.16 729.43L34.35 729.94L35.55 729.79L36.82 730.13L38.1 730.3L39.12 725.4L39.84 722.13L40.66 723.36L42.19 725.4L43.72 725.91L44.74 723.15L45.77 724.89L46.79 725.45L47.81 725.87L48.83 726.22L49.85 726.81L50.87 726.81L51.9 727.34L52.92 727.44L53.94 727.51L54.96 727.56L55.98 727.25L57.01 727.24L58.03 727.81L59.05 728.15L60.07 728.43L61.09 728.98L62.12 728.68L63.14 728.79L64.16 728.34L65.18 728.47L66.2 728.58L67.22 728L68.25 727.8L69.27 727.95L70.55 727.46L71.82 727.44L72.84 723.36L73.56 719.27L74.38 724.38L75.4 727.95L76.42 728.98L77.44 729.49L78.72 729.65L80 730L81 729.38L82 729.2L83 728.87L84 728.82L85 729.17L86 729L87 729.23L88 729.42L89 729.59L90 729.6L91 729.54L92 730.05L93 730.12L94 730.4L95 730.74L96 730.89L97 731.08L98 731L99 730.89L100 731.52L101 731.7L102 731.6L106 732.2L151 732.4L220 732.4L220 733.5Z" fill="#00ffff" fill-opacity="0.5" stroke="none"/><path d="M16.2 613L16.4 613L17.6 632L19 662L20.22 670.22L21.75 700.87L23.8 717.22L25.33 721.31L26.35 723.25L27.37 725.4L28.39 727.16L29.42 728.47L30.69 728.87L31.97 729.49L33.16 729.43L34.35 729.94L35.55 729.79L36.82 730.13L38.1 730.3L39.12 725.4L39.84 722.13L40.66 723.36L42.19 725.4L43.72 725.91L44.74 723.15L45.77 724.89L46.79 725.45L47.81 725.87L48.83 726.22L49.85 726.81L50.87 726.81L51.9 727.34L52.92 727.44L53.94 727.51L54.96 727.56L55.98 727.25L57.01 727.24L58.03 727.81L59.05 728.15L60.07 728.43L61.09 728.98L62.12 728.68L63.14 728.79L64.16 728.34L65.18 728.47L66.2 728.58L67.22 728L68.25 727.8L69.27 727.95L70.55 727.46L71.82 727.44L72.84 723.36L73.56 719.27L74.38 724.38L75.4 727.95L76.42 728.98L77.44 729.49L78.72 729.65L80 730L81 729.38L82 729.2L83 728.87L84 728.82L85 729.17L86 729L87 729.23L88 729.42L89 729.59L90 729.6L91 729.54L92 730.05L93 730.12L94 730.4L95 730.74L96 730.89L97 731.08L98 731L99 730.89L100 731.52L101 731.7L102 731.6L106 732.2L151 732.4L220 732.4" fill="none" stroke="#000" stroke-width="1" stroke-linejoin="round" stroke-opacity="1"/>
<rect x="16.2" y="586" width="203.8" height="147.5" fill="none" stroke="#585858" stroke-width="0.8"/>
<path d="M36.58 733.5v-2.1 M36.58 586v2.1M56.96 733.5v-2.1 M56.96 586v2.1M77.34 733.5v-2.1 M77.34 586v2.1M97.72 733.5v-2.1 M97.72 586v2.1M118.1 733.5v-2.1 M118.1 586v2.1M138.48 733.5v-2.1 M138.48 586v2.1M158.86 733.5v-2.1 M158.86 586v2.1M179.24 733.5v-2.1 M179.24 586v2.1M199.62 733.5v-2.1 M199.62 586v2.1M16.2 704h2.1 M220 704h-2.1M16.2 674.5h2.1 M220 674.5h-2.1M16.2 645h2.1 M220 645h-2.1M16.2 615.5h2.1 M220 615.5h-2.1" stroke="#585858" stroke-width="0.8" fill="none"/>
<text class="k e" x="12.4" y="737.6">0</text>
<text class="k e" x="12.4" y="708.1">5</text>
<text class="k e" x="12.4" y="678.6">10</text>
<text class="k e" x="12.4" y="649.1">15</text>
<text class="k e" x="12.4" y="619.6">20</text>
<text class="k e" x="12.4" y="590.1">25</text>
<text class="k e" transform="translate(23.7 744.2) rotate(-45)">0</text>
<text class="k e" transform="translate(44.08 744.2) rotate(-45)">50</text>
<text class="k e" transform="translate(64.46 744.2) rotate(-45)">100</text>
<text class="k e" transform="translate(84.84 744.2) rotate(-45)">150</text>
<text class="k e" transform="translate(105.22 744.2) rotate(-45)">200</text>
<text class="k e" transform="translate(125.6 744.2) rotate(-45)">250</text>
<text class="k e" transform="translate(145.98 744.2) rotate(-45)">300</text>
<text class="k e" transform="translate(166.36 744.2) rotate(-45)">350</text>
<text class="k e" transform="translate(186.74 744.2) rotate(-45)">400</text>
<text class="k e" transform="translate(207.12 744.2) rotate(-45)">450</text>
<text class="k e" transform="translate(227.5 744.2) rotate(-45)">500</text>
<text class="ti" x="118.1" y="582">Diversity(CEC8)</text>
<rect x="153.2" y="590.5" width="61.3" height="26.4" fill="#fff" stroke="#4a4a4a" stroke-width="1.1"/>
<rect x="155.3" y="593" width="19" height="8.7" fill="#ff0000" fill-opacity="0.7" stroke="#000" stroke-width="0.9"/>
<rect x="155.3" y="605.8" width="19" height="8.7" fill="#00ffff" fill-opacity="0.5" stroke="#000" stroke-width="0.9"/>
<text class="lg" textLength="36.7" lengthAdjust="spacingAndGlyphs" x="175.5" y="601.4">GPSOM</text>
<text class="lg" textLength="20.8" lengthAdjust="spacingAndGlyphs" x="175.5" y="614.2">PSO</text></g>
<g><path d="M243.6 732.5L243.6 630L244 630L245.2 648L246.4 670L247.6 690L248.4 702L249.2 710L250 702L251 710L253.7 717.5L254.67 719.44L255.63 721.32L256.6 723.4L257.77 724.84L258.93 725.89L260.1 727.5L261.04 728.07L261.98 728.91L262.92 729.49L263.86 730.06L264.8 730.6L269.4 732L280 732.4L447.5 732.4L447.5 732.5Z" fill="#ff0000" fill-opacity="0.7" stroke="none"/><path d="M243.6 630L244 630L245.2 648L246.4 670L247.6 690L248.4 702L249.2 710L250 702L251 710L253.7 717.5L254.67 719.44L255.63 721.32L256.6 723.4L257.77 724.84L258.93 725.89L260.1 727.5L261.04 728.07L261.98 728.91L262.92 729.49L263.86 730.06L264.8 730.6L269.4 732L280 732.4L447.5 732.4" fill="none" stroke="#000" stroke-width="1" stroke-linejoin="round" stroke-opacity="1"/>
<path d="M243.6 732.5L243.6 594L244 594L245.2 614L246.6 634L248 648L249.6 659L251.6 668L254 675L257 681L260 684.4L263 687L266 690L267 692.05L268 693.6L269.2 695.41L270.4 697L271.7 697.56L273 697.6L274 697.57L275 697.16L276 697.2L277 697.15L278 697.41L279 698L280 698.74L281 698.83L282 699.6L283 699.92L284 700.47L285 701L286 700.95L287 701.47L288 702L289 702.36L290 703.24L291 703.6L292 703.76L293 703.99L294 704.4L295 704.97L296 704.8L297 705L298 705.48L299 705.49L300 705.6L301 705.89L302 706.86L303 707.6L304 707.68L305 708.09L306 708L307 708.28L308 708.96L309 709.2L310 709.36L311 709.24L312 709.6L313 709.99L314 709.47L315 710.16L316 710L317 709.74L318 709.6L319 709.76L320 710L321 710.31L322 710.58L323 709.9L324 710.4L325 710.29L326 710.19L327 710.34L328 710L329 709.9L330 710.3L331 710.33L332 710.6L333 711.12L334 710.91L335 711.71L336 711.6L337 711.53L338 711.57L339 712.06L340 712L341 712.2L342 712.09L343 712.71L344 712.8L345 712.54L346 713.19L347 713.2L348 713.35L349 713.2L350 713.22L351 712.92L352 712.88L353 712.8L354 712.8L355 713.15L356 712.54L357 713.21L358 712.55L359 712.73L360 713L361 712.84L362 713.39L363 713.1L364 713.04L365 713.47L366 713.2L367 712.95L368 713.1L369 713.13L370 713.27L371 713.24L372 713L373 713.08L374 712.8L375 712.74L376 712.56L377 712.8L378 713.07L379 712.93L380 712.8L380.91 713.01L381.82 712.57L382.73 712.81L383.64 713.09L384.55 712.95L385.45 712.61L386.36 712.9L387.27 713.25L388.18 712.75L389.09 712.74L390 713L390.91 712.82L391.82 713.13L392.73 713.22L393.64 712.65L394.55 712.63L395.45 712.69L396.36 712.73L397.27 712.87L398.18 712.57L399.09 712.68L400 712.8L400.91 712.52L401.82 713.11L402.73 712.87L403.64 712.34L404.55 712.99L405.45 712.26L406.36 712.45L407.27 712.9L408.18 712.71L409.09 712.62L410 712.4L411 712.5L412 712.46L413 712.96L414 713L415 712.84L416 713.07L417 713.36L418 713.6L419 713.73L420 714.52L421 715.33L422 715.6L423 716.05L424 716.2L425 716.61L426 716.8L427 716.75L428 716.46L429 716.81L430 716.62L431 716.87L432 716.98L433 716.57L434 716.6L435 716.68L436 716.85L437 716.61L438 716.48L439 716.9L440 717.05L441 716.99L442 716.8L443.08 716.88L444.16 716.92L445.24 716.7L446.32 716.59L447.4 716.4L447.5 716.4L447.5 732.5Z" fill="#00ffff" fill-opacity="0.5" stroke="none"/><path d="M243.6 594L244 594L245.2 614L246.6 634L248 648L249.6 659L251.6 668L254 675L257 681L260 684.4L263 687L266 690L267 692.05L268 693.6L269.2 695.41L270.4 697L271.7 697.56L273 697.6L274 697.57L275 697.16L276 697.2L277 697.15L278 697.41L279 698L280 698.74L281 698.83L282 699.6L283 699.92L284 700.47L285 701L286 700.95L287 701.47L288 702L289 702.36L290 703.24L291 703.6L292 703.76L293 703.99L294 704.4L295 704.97L296 704.8L297 705L298 705.48L299 705.49L300 705.6L301 705.89L302 706.86L303 707.6L304 707.68L305 708.09L306 708L307 708.28L308 708.96L309 709.2L310 709.36L311 709.24L312 709.6L313 709.99L314 709.47L315 710.16L316 710L317 709.74L318 709.6L319 709.76L320 710L321 710.31L322 710.58L323 709.9L324 710.4L325 710.29L326 710.19L327 710.34L328 710L329 709.9L330 710.3L331 710.33L332 710.6L333 711.12L334 710.91L335 711.71L336 711.6L337 711.53L338 711.57L339 712.06L340 712L341 712.2L342 712.09L343 712.71L344 712.8L345 712.54L346 713.19L347 713.2L348 713.35L349 713.2L350 713.22L351 712.92L352 712.88L353 712.8L354 712.8L355 713.15L356 712.54L357 713.21L358 712.55L359 712.73L360 713L361 712.84L362 713.39L363 713.1L364 713.04L365 713.47L366 713.2L367 712.95L368 713.1L369 713.13L370 713.27L371 713.24L372 713L373 713.08L374 712.8L375 712.74L376 712.56L377 712.8L378 713.07L379 712.93L380 712.8L380.91 713.01L381.82 712.57L382.73 712.81L383.64 713.09L384.55 712.95L385.45 712.61L386.36 712.9L387.27 713.25L388.18 712.75L389.09 712.74L390 713L390.91 712.82L391.82 713.13L392.73 713.22L393.64 712.65L394.55 712.63L395.45 712.69L396.36 712.73L397.27 712.87L398.18 712.57L399.09 712.68L400 712.8L400.91 712.52L401.82 713.11L402.73 712.87L403.64 712.34L404.55 712.99L405.45 712.26L406.36 712.45L407.27 712.9L408.18 712.71L409.09 712.62L410 712.4L411 712.5L412 712.46L413 712.96L414 713L415 712.84L416 713.07L417 713.36L418 713.6L419 713.73L420 714.52L421 715.33L422 715.6L423 716.05L424 716.2L425 716.61L426 716.8L427 716.75L428 716.46L429 716.81L430 716.62L431 716.87L432 716.98L433 716.57L434 716.6L435 716.68L436 716.85L437 716.61L438 716.48L439 716.9L440 717.05L441 716.99L442 716.8L443.08 716.88L444.16 716.92L445.24 716.7L446.32 716.59L447.4 716.4L447.5 716.4" fill="none" stroke="#000" stroke-width="1" stroke-linejoin="round" stroke-opacity="1"/>
<rect x="243.6" y="586" width="203.9" height="146.5" fill="none" stroke="#585858" stroke-width="0.8"/>
<path d="M263.99 732.5v-2.1 M263.99 586v2.1M284.38 732.5v-2.1 M284.38 586v2.1M304.77 732.5v-2.1 M304.77 586v2.1M325.16 732.5v-2.1 M325.16 586v2.1M345.55 732.5v-2.1 M345.55 586v2.1M365.94 732.5v-2.1 M365.94 586v2.1M386.33 732.5v-2.1 M386.33 586v2.1M406.72 732.5v-2.1 M406.72 586v2.1M427.11 732.5v-2.1 M427.11 586v2.1M243.6 703.2h2.1 M447.5 703.2h-2.1M243.6 673.9h2.1 M447.5 673.9h-2.1M243.6 644.6h2.1 M447.5 644.6h-2.1M243.6 615.3h2.1 M447.5 615.3h-2.1" stroke="#585858" stroke-width="0.8" fill="none"/>
<text class="k e" x="239.8" y="736.6">0</text>
<text class="k e" x="239.8" y="707.3">10</text>
<text class="k e" x="239.8" y="678">20</text>
<text class="k e" x="239.8" y="648.7">30</text>
<text class="k e" x="239.8" y="619.4">40</text>
<text class="k e" x="239.8" y="590.1">50</text>
<text class="k e" transform="translate(251.1 743.2) rotate(-45)">0</text>
<text class="k e" transform="translate(271.49 743.2) rotate(-45)">50</text>
<text class="k e" transform="translate(291.88 743.2) rotate(-45)">100</text>
<text class="k e" transform="translate(312.27 743.2) rotate(-45)">150</text>
<text class="k e" transform="translate(332.66 743.2) rotate(-45)">200</text>
<text class="k e" transform="translate(353.05 743.2) rotate(-45)">250</text>
<text class="k e" transform="translate(373.44 743.2) rotate(-45)">300</text>
<text class="k e" transform="translate(393.83 743.2) rotate(-45)">350</text>
<text class="k e" transform="translate(414.22 743.2) rotate(-45)">400</text>
<text class="k e" transform="translate(434.61 743.2) rotate(-45)">450</text>
<text class="k e" transform="translate(455 743.2) rotate(-45)">500</text>
<text class="ti" x="345.55" y="582">Diversity(CEC8)</text>
<rect x="380.6" y="590.5" width="61.3" height="26.4" fill="#fff" stroke="#4a4a4a" stroke-width="1.1"/>
<rect x="382.7" y="593" width="19" height="8.7" fill="#ff0000" fill-opacity="0.7" stroke="#000" stroke-width="0.9"/>
<rect x="382.7" y="605.8" width="19" height="8.7" fill="#00ffff" fill-opacity="0.5" stroke="#000" stroke-width="0.9"/>
<text class="lg" textLength="36.7" lengthAdjust="spacingAndGlyphs" x="402.9" y="601.4">GPSOM</text>
<text class="lg" textLength="20.8" lengthAdjust="spacingAndGlyphs" x="402.9" y="614.2">PSO</text></g>
<g><path d="M472 731.8L472 659L472.4 659L474 661L476 666L478 672L481 678L482 679.72L483 682.07L484 684L485 686.11L486 688.26L487 690L488 691.56L489 693.62L490 695L492 701L494 707L495 709.01L496 711L497 711.99L498 713L500 718L501 720.24L502 722L503 722.39L504 723.46L505 724L506 724.74L507 725.24L508 726L509 726.47L510 726.42L511 726.73L512 727L513 727.37L514 727.86L515 727.88L516 728.4L517 728.56L518 728.75L519 729.03L520 729.4L521 729.28L522 729.6L530 730.4L546 731L603 731.2L675.8 731.2L675.8 731.8Z" fill="#ff0000" fill-opacity="0.7" stroke="none"/><path d="M472 659L472.4 659L474 661L476 666L478 672L481 678L482 679.72L483 682.07L484 684L485 686.11L486 688.26L487 690L488 691.56L489 693.62L490 695L492 701L494 707L495 709.01L496 711L497 711.99L498 713L500 718L501 720.24L502 722L503 722.39L504 723.46L505 724L506 724.74L507 725.24L508 726L509 726.47L510 726.42L511 726.73L512 727L513 727.37L514 727.86L515 727.88L516 728.4L517 728.56L518 728.75L519 729.03L520 729.4L521 729.28L522 729.6L530 730.4L546 731L603 731.2L675.8 731.2" fill="none" stroke="#000" stroke-width="1" stroke-linejoin="round" stroke-opacity="1"/>
<path d="M472 731.8L472 609L472.4 609L473.6 628L475 644L476.4 656L478 664L480 670L483 674.4L486 676.4L489 678.4L492 679.6L493 680.6L494 682L495 683.74L496 685.6L497 686.36L498 687.3L499 688L500 688.93L501 690.14L502 691L503 692.01L504 692.08L505 693L506 693.59L507 694.16L508 694.4L509 694.64L510 695.06L511 695.4L512 695.78L513 695.03L514 695.43L515 695.4L516 695.08L517 695.53L518 695.6L519 695.2L520 695.35L521 695.15L522 695.6L523 696.26L524 696.8L525 697.23L526 697.77L527 698L528 697.88L529 697.84L530 697.6L531 697.81L532 697.52L533 697.38L534 697.4L535 698.01L536 697.67L537 698.3L538 698.4L539 698.36L540 698.71L541 698.25L542 698.6L543 699.19L544 698.88L545 698.85L546 699.4L547 699.27L548 699.42L549 699.16L550 699.6L551 699.88L552 700.24L553 700.81L554 701L555 701.42L556 701.88L557 702.6L558 702.65L559 703.33L560 703.4L561 703.75L562 703.42L563 703.18L564 703.4L565 703.59L566 703.21L567 703.02L568 703.2L569 703L570 703.62L571 703.75L572 703.6L573 704.17L574 704.51L575 705L576 705.85L577 706.6L578 706.48L579 707.17L580 706.78L581 707L582 706.99L583 707.01L584 706.89L585 706.49L586 706.4L587 706.3L588 706.57L589 706.3L590 706.93L591 706.62L592 706.8L593 707.11L594 706.68L595 706.8L596 706.74L597 706.91L598 707L599 706.63L600 706.36L601 706.82L602 706.34L603 706.4L604 706.28L605 706.4L606 706.62L607 706.66L608 706.8L609 706.91L610 706.93L611 706.69L612 707.14L613 707.08L614 706.45L615 706.8L616 707.66L617 708.32L618 708.6L618.91 708.81L619.82 708.28L620.73 708.81L621.64 708.63L622.55 708.12L623.45 708.1L624.36 708.83L625.27 708.58L626.18 708.24L627.09 708.1L628 708.4L628.91 708.11L629.82 708.19L630.73 708.62L631.64 708.28L632.55 708.12L633.45 708.72L634.36 708.63L635.27 708.13L636.18 708.71L637.09 708.49L638 708.4L638.91 708.64L639.82 708.57L640.73 708.77L641.64 708.7L642.55 708.76L643.45 708.27L644.36 708.68L645.27 708.57L646.18 708.76L647.09 708.53L648 708.6L648.91 708.92L649.82 708.68L650.73 708.47L651.64 708.46L652.55 708.4L653.45 708.7L654.36 708.37L655.27 708.72L656.18 708.48L657.09 708.77L658 708.8L659 709.1L660 709.43L661 709.99L662 710L663 709.54L664 710.14L665 709.77L666 709.78L667 709.8L668 709.6L668.95 709.82L669.9 709.4L670.85 709.39L671.8 709.77L672.75 709.01L673.7 709.41L674.65 709.36L675.6 709.2L675.8 709.2L675.8 731.8Z" fill="#00ffff" fill-opacity="0.5" stroke="none"/><path d="M472 609L472.4 609L473.6 628L475 644L476.4 656L478 664L480 670L483 674.4L486 676.4L489 678.4L492 679.6L493 680.6L494 682L495 683.74L496 685.6L497 686.36L498 687.3L499 688L500 688.93L501 690.14L502 691L503 692.01L504 692.08L505 693L506 693.59L507 694.16L508 694.4L509 694.64L510 695.06L511 695.4L512 695.78L513 695.03L514 695.43L515 695.4L516 695.08L517 695.53L518 695.6L519 695.2L520 695.35L521 695.15L522 695.6L523 696.26L524 696.8L525 697.23L526 697.77L527 698L528 697.88L529 697.84L530 697.6L531 697.81L532 697.52L533 697.38L534 697.4L535 698.01L536 697.67L537 698.3L538 698.4L539 698.36L540 698.71L541 698.25L542 698.6L543 699.19L544 698.88L545 698.85L546 699.4L547 699.27L548 699.42L549 699.16L550 699.6L551 699.88L552 700.24L553 700.81L554 701L555 701.42L556 701.88L557 702.6L558 702.65L559 703.33L560 703.4L561 703.75L562 703.42L563 703.18L564 703.4L565 703.59L566 703.21L567 703.02L568 703.2L569 703L570 703.62L571 703.75L572 703.6L573 704.17L574 704.51L575 705L576 705.85L577 706.6L578 706.48L579 707.17L580 706.78L581 707L582 706.99L583 707.01L584 706.89L585 706.49L586 706.4L587 706.3L588 706.57L589 706.3L590 706.93L591 706.62L592 706.8L593 707.11L594 706.68L595 706.8L596 706.74L597 706.91L598 707L599 706.63L600 706.36L601 706.82L602 706.34L603 706.4L604 706.28L605 706.4L606 706.62L607 706.66L608 706.8L609 706.91L610 706.93L611 706.69L612 707.14L613 707.08L614 706.45L615 706.8L616 707.66L617 708.32L618 708.6L618.91 708.81L619.82 708.28L620.73 708.81L621.64 708.63L622.55 708.12L623.45 708.1L624.36 708.83L625.27 708.58L626.18 708.24L627.09 708.1L628 708.4L628.91 708.11L629.82 708.19L630.73 708.62L631.64 708.28L632.55 708.12L633.45 708.72L634.36 708.63L635.27 708.13L636.18 708.71L637.09 708.49L638 708.4L638.91 708.64L639.82 708.57L640.73 708.77L641.64 708.7L642.55 708.76L643.45 708.27L644.36 708.68L645.27 708.57L646.18 708.76L647.09 708.53L648 708.6L648.91 708.92L649.82 708.68L650.73 708.47L651.64 708.46L652.55 708.4L653.45 708.7L654.36 708.37L655.27 708.72L656.18 708.48L657.09 708.77L658 708.8L659 709.1L660 709.43L661 709.99L662 710L663 709.54L664 710.14L665 709.77L666 709.78L667 709.8L668 709.6L668.95 709.82L669.9 709.4L670.85 709.39L671.8 709.77L672.75 709.01L673.7 709.41L674.65 709.36L675.6 709.2L675.8 709.2" fill="none" stroke="#000" stroke-width="1" stroke-linejoin="round" stroke-opacity="1"/>
<rect x="472" y="586" width="203.8" height="145.8" fill="none" stroke="#585858" stroke-width="0.8"/>
<path d="M492.38 731.8v-2.1 M492.38 586v2.1M512.76 731.8v-2.1 M512.76 586v2.1M533.14 731.8v-2.1 M533.14 586v2.1M553.52 731.8v-2.1 M553.52 586v2.1M573.9 731.8v-2.1 M573.9 586v2.1M594.28 731.8v-2.1 M594.28 586v2.1M614.66 731.8v-2.1 M614.66 586v2.1M635.04 731.8v-2.1 M635.04 586v2.1M655.42 731.8v-2.1 M655.42 586v2.1M472 695.35h2.1 M675.8 695.35h-2.1M472 658.9h2.1 M675.8 658.9h-2.1M472 622.45h2.1 M675.8 622.45h-2.1" stroke="#585858" stroke-width="0.8" fill="none"/>
<text class="k e" x="468.2" y="735.9">0</text>
<text class="k e" x="468.2" y="699.45">20</text>
<text class="k e" x="468.2" y="663">40</text>
<text class="k e" x="468.2" y="626.55">60</text>
<text class="k e" x="468.2" y="590.1">80</text>
<text class="k e" transform="translate(479.5 742.5) rotate(-45)">0</text>
<text class="k e" transform="translate(499.88 742.5) rotate(-45)">50</text>
<text class="k e" transform="translate(520.26 742.5) rotate(-45)">100</text>
<text class="k e" transform="translate(540.64 742.5) rotate(-45)">150</text>
<text class="k e" transform="translate(561.02 742.5) rotate(-45)">200</text>
<text class="k e" transform="translate(581.4 742.5) rotate(-45)">250</text>
<text class="k e" transform="translate(601.78 742.5) rotate(-45)">300</text>
<text class="k e" transform="translate(622.16 742.5) rotate(-45)">350</text>
<text class="k e" transform="translate(642.54 742.5) rotate(-45)">400</text>
<text class="k e" transform="translate(662.92 742.5) rotate(-45)">450</text>
<text class="k e" transform="translate(683.3 742.5) rotate(-45)">500</text>
<text class="ti" x="573.9" y="582">Diversity(CEC8)</text>
<rect x="608.6" y="590.5" width="61.3" height="26.4" fill="#fff" stroke="#4a4a4a" stroke-width="1.1"/>
<rect x="610.7" y="593" width="19" height="8.7" fill="#ff0000" fill-opacity="0.7" stroke="#000" stroke-width="0.9"/>
<rect x="610.7" y="605.8" width="19" height="8.7" fill="#00ffff" fill-opacity="0.5" stroke="#000" stroke-width="0.9"/>
<text class="lg" textLength="36.7" lengthAdjust="spacingAndGlyphs" x="630.9" y="601.4">GPSOM</text>
<text class="lg" textLength="20.8" lengthAdjust="spacingAndGlyphs" x="630.9" y="614.2">PSO</text></g>
</svg>
</body></html>
